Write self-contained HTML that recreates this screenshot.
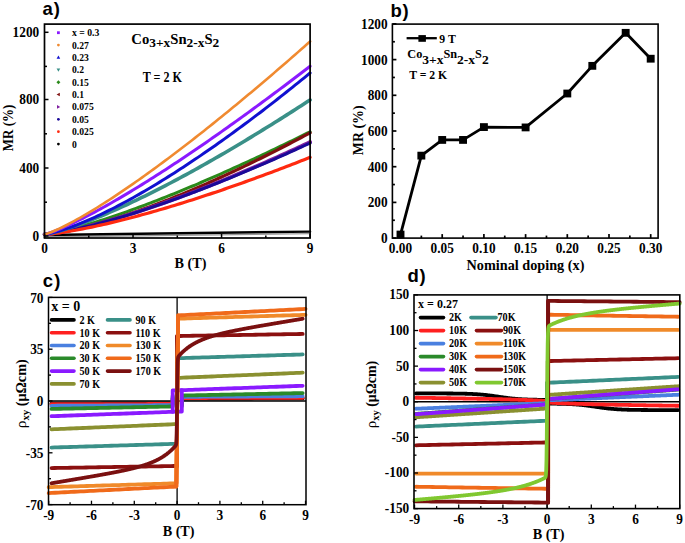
<!DOCTYPE html>
<html><head><meta charset="utf-8"><style>
html,body{margin:0;padding:0;background:#fff;width:685px;height:543px;overflow:hidden;}
svg{display:block;font-family:"Liberation Serif",serif;}
</style></head><body>
<svg width="685" height="543" viewBox="0 0 685 543"><path d="M44.50,237.00 L310.10,233.60" fill="none" stroke="#9a9a9a" stroke-width="1.3" stroke-linejoin="round" stroke-linecap="round" />
<path d="M44.50,235.00 L310.10,231.60" fill="none" stroke="#000" stroke-width="2.4" stroke-linejoin="round" stroke-linecap="round" />
<path d="M44.50,234.30 L47.45,233.99 L50.40,233.54 L53.35,233.03 L56.30,232.45 L59.26,231.84 L62.21,231.18 L65.16,230.50 L68.11,229.78 L71.06,229.04 L74.01,228.27 L76.96,227.49 L79.91,226.68 L82.86,225.85 L85.82,225.00 L88.77,224.13 L91.72,223.25 L94.67,222.35 L97.62,221.44 L100.57,220.51 L103.52,219.57 L106.47,218.61 L109.42,217.64 L112.38,216.66 L115.33,215.66 L118.28,214.65 L121.23,213.63 L124.18,212.60 L127.13,211.56 L130.08,210.51 L133.03,209.44 L135.98,208.37 L138.94,207.28 L141.89,206.19 L144.84,205.09 L147.79,203.97 L150.74,202.85 L153.69,201.72 L156.64,200.58 L159.59,199.43 L162.54,198.27 L165.50,197.11 L168.45,195.93 L171.40,194.75 L174.35,193.56 L177.30,192.36 L180.25,191.15 L183.20,189.94 L186.15,188.72 L189.10,187.49 L192.06,186.25 L195.01,185.01 L197.96,183.76 L200.91,182.50 L203.86,181.24 L206.81,179.97 L209.76,178.69 L212.71,177.41 L215.66,176.12 L218.62,174.82 L221.57,173.51 L224.52,172.20 L227.47,170.89 L230.42,169.57 L233.37,168.24 L236.32,166.90 L239.27,165.56 L242.22,164.22 L245.18,162.86 L248.13,161.50 L251.08,160.14 L254.03,158.77 L256.98,157.40 L259.93,156.02 L262.88,154.63 L265.83,153.24 L268.78,151.84 L271.74,150.44 L274.69,149.03 L277.64,147.62 L280.59,146.20 L283.54,144.78 L286.49,143.35 L289.44,141.92 L292.39,140.48 L295.34,139.03 L298.30,137.59 L301.25,136.13 L304.20,134.67 L307.15,133.21 L310.10,131.74" fill="none" stroke="#2a8a1a" stroke-width="3" stroke-linejoin="round" stroke-linecap="round" />
<path d="M44.50,234.30 L47.45,234.12 L50.40,233.83 L53.35,233.46 L56.30,233.04 L59.26,232.58 L62.21,232.07 L65.16,231.53 L68.11,230.95 L71.06,230.35 L74.01,229.72 L76.96,229.06 L79.91,228.37 L82.86,227.67 L85.82,226.93 L88.77,226.18 L91.72,225.41 L94.67,224.61 L97.62,223.80 L100.57,222.97 L103.52,222.12 L106.47,221.25 L109.42,220.37 L112.38,219.47 L115.33,218.55 L118.28,217.62 L121.23,216.67 L124.18,215.70 L127.13,214.73 L130.08,213.73 L133.03,212.73 L135.98,211.71 L138.94,210.67 L141.89,209.62 L144.84,208.56 L147.79,207.49 L150.74,206.40 L153.69,205.30 L156.64,204.19 L159.59,203.07 L162.54,201.93 L165.50,200.79 L168.45,199.63 L171.40,198.46 L174.35,197.28 L177.30,196.09 L180.25,194.88 L183.20,193.67 L186.15,192.45 L189.10,191.21 L192.06,189.97 L195.01,188.71 L197.96,187.45 L200.91,186.17 L203.86,184.89 L206.81,183.59 L209.76,182.29 L212.71,180.97 L215.66,179.65 L218.62,178.31 L221.57,176.97 L224.52,175.62 L227.47,174.26 L230.42,172.89 L233.37,171.51 L236.32,170.12 L239.27,168.73 L242.22,167.32 L245.18,165.91 L248.13,164.48 L251.08,163.05 L254.03,161.61 L256.98,160.17 L259.93,158.71 L262.88,157.25 L265.83,155.77 L268.78,154.29 L271.74,152.81 L274.69,151.31 L277.64,149.80 L280.59,148.29 L283.54,146.77 L286.49,145.25 L289.44,143.71 L292.39,142.17 L295.34,140.62 L298.30,139.06 L301.25,137.49 L304.20,135.92 L307.15,134.34 L310.10,132.75" fill="none" stroke="#801010" stroke-width="3.2" stroke-linejoin="round" stroke-linecap="round" />
<path d="M44.50,234.30 L47.45,234.09 L50.40,233.76 L53.35,233.36 L56.30,232.92 L59.26,232.44 L62.21,231.92 L65.16,231.36 L68.11,230.78 L71.06,230.18 L74.01,229.55 L76.96,228.90 L79.91,228.22 L82.86,227.53 L85.82,226.82 L88.77,226.08 L91.72,225.34 L94.67,224.57 L97.62,223.79 L100.57,223.00 L103.52,222.19 L106.47,221.36 L109.42,220.52 L112.38,219.67 L115.33,218.81 L118.28,217.93 L121.23,217.04 L124.18,216.13 L127.13,215.22 L130.08,214.30 L133.03,213.36 L135.98,212.41 L138.94,211.45 L141.89,210.48 L144.84,209.50 L147.79,208.51 L150.74,207.51 L153.69,206.50 L156.64,205.49 L159.59,204.46 L162.54,203.42 L165.50,202.37 L168.45,201.32 L171.40,200.25 L174.35,199.18 L177.30,198.10 L180.25,197.01 L183.20,195.91 L186.15,194.80 L189.10,193.69 L192.06,192.56 L195.01,191.43 L197.96,190.30 L200.91,189.15 L203.86,188.00 L206.81,186.83 L209.76,185.66 L212.71,184.49 L215.66,183.31 L218.62,182.12 L221.57,180.92 L224.52,179.71 L227.47,178.50 L230.42,177.28 L233.37,176.06 L236.32,174.83 L239.27,173.59 L242.22,172.34 L245.18,171.09 L248.13,169.83 L251.08,168.57 L254.03,167.30 L256.98,166.02 L259.93,164.74 L262.88,163.45 L265.83,162.15 L268.78,160.85 L271.74,159.54 L274.69,158.23 L277.64,156.91 L280.59,155.58 L283.54,154.25 L286.49,152.92 L289.44,151.57 L292.39,150.22 L295.34,148.87 L298.30,147.51 L301.25,146.15 L304.20,144.77 L307.15,143.40 L310.10,142.02" fill="none" stroke="#8020a0" stroke-width="3.8" stroke-linejoin="round" stroke-linecap="round" />
<path d="M44.50,234.30 L47.45,234.09 L50.40,233.75 L53.35,233.36 L56.30,232.91 L59.26,232.43 L62.21,231.91 L65.16,231.36 L68.11,230.78 L71.06,230.18 L74.01,229.55 L76.96,228.90 L79.91,228.23 L82.86,227.54 L85.82,226.83 L88.77,226.10 L91.72,225.36 L94.67,224.60 L97.62,223.82 L100.57,223.03 L103.52,222.23 L106.47,221.41 L109.42,220.58 L112.38,219.73 L115.33,218.87 L118.28,218.00 L121.23,217.12 L124.18,216.23 L127.13,215.32 L130.08,214.40 L133.03,213.47 L135.98,212.53 L138.94,211.59 L141.89,210.63 L144.84,209.66 L147.79,208.68 L150.74,207.69 L153.69,206.69 L156.64,205.68 L159.59,204.66 L162.54,203.63 L165.50,202.60 L168.45,201.55 L171.40,200.50 L174.35,199.44 L177.30,198.37 L180.25,197.29 L183.20,196.21 L186.15,195.11 L189.10,194.01 L192.06,192.90 L195.01,191.78 L197.96,190.66 L200.91,189.52 L203.86,188.38 L206.81,187.24 L209.76,186.08 L212.71,184.92 L215.66,183.75 L218.62,182.58 L221.57,181.39 L224.52,180.21 L227.47,179.01 L230.42,177.81 L233.37,176.60 L236.32,175.38 L239.27,174.16 L242.22,172.93 L245.18,171.69 L248.13,170.45 L251.08,169.21 L254.03,167.95 L256.98,166.69 L259.93,165.43 L262.88,164.15 L265.83,162.88 L268.78,161.59 L271.74,160.30 L274.69,159.01 L277.64,157.71 L280.59,156.40 L283.54,155.09 L286.49,153.77 L289.44,152.44 L292.39,151.12 L295.34,149.78 L298.30,148.44 L301.25,147.10 L304.20,145.74 L307.15,144.39 L310.10,143.03" fill="none" stroke="#1a0a98" stroke-width="3" stroke-linejoin="round" stroke-linecap="round" />
<path d="M44.50,234.30 L47.45,234.14 L50.40,233.88 L53.35,233.57 L56.30,233.22 L59.26,232.83 L62.21,232.42 L65.16,231.97 L68.11,231.51 L71.06,231.02 L74.01,230.51 L76.96,229.98 L79.91,229.43 L82.86,228.87 L85.82,228.29 L88.77,227.69 L91.72,227.08 L94.67,226.45 L97.62,225.81 L100.57,225.16 L103.52,224.50 L106.47,223.82 L109.42,223.13 L112.38,222.43 L115.33,221.72 L118.28,220.99 L121.23,220.26 L124.18,219.51 L127.13,218.76 L130.08,217.99 L133.03,217.22 L135.98,216.43 L138.94,215.64 L141.89,214.83 L144.84,214.02 L147.79,213.20 L150.74,212.37 L153.69,211.53 L156.64,210.68 L159.59,209.83 L162.54,208.96 L165.50,208.09 L168.45,207.21 L171.40,206.32 L174.35,205.43 L177.30,204.53 L180.25,203.62 L183.20,202.70 L186.15,201.77 L189.10,200.84 L192.06,199.90 L195.01,198.96 L197.96,198.00 L200.91,197.04 L203.86,196.08 L206.81,195.10 L209.76,194.12 L212.71,193.14 L215.66,192.15 L218.62,191.15 L221.57,190.14 L224.52,189.13 L227.47,188.11 L230.42,187.09 L233.37,186.06 L236.32,185.02 L239.27,183.98 L242.22,182.93 L245.18,181.88 L248.13,180.82 L251.08,179.76 L254.03,178.69 L256.98,177.61 L259.93,176.53 L262.88,175.44 L265.83,174.35 L268.78,173.25 L271.74,172.15 L274.69,171.04 L277.64,169.93 L280.59,168.81 L283.54,167.69 L286.49,166.56 L289.44,165.42 L292.39,164.28 L295.34,163.14 L298.30,161.99 L301.25,160.83 L304.20,159.67 L307.15,158.51 L310.10,157.34" fill="none" stroke="#ff2a10" stroke-width="3.2" stroke-linejoin="round" stroke-linecap="round" />
<path d="M44.50,234.30 L47.45,233.90 L50.40,233.31 L53.35,232.63 L56.30,231.88 L59.26,231.07 L62.21,230.22 L65.16,229.32 L68.11,228.38 L71.06,227.41 L74.01,226.40 L76.96,225.37 L79.91,224.31 L82.86,223.22 L85.82,222.11 L88.77,220.98 L91.72,219.82 L94.67,218.65 L97.62,217.45 L100.57,216.23 L103.52,214.99 L106.47,213.74 L109.42,212.47 L112.38,211.18 L115.33,209.87 L118.28,208.55 L121.23,207.22 L124.18,205.87 L127.13,204.50 L130.08,203.12 L133.03,201.73 L135.98,200.32 L138.94,198.90 L141.89,197.47 L144.84,196.02 L147.79,194.56 L150.74,193.09 L153.69,191.61 L156.64,190.11 L159.59,188.61 L162.54,187.09 L165.50,185.56 L168.45,184.02 L171.40,182.47 L174.35,180.91 L177.30,179.34 L180.25,177.76 L183.20,176.17 L186.15,174.57 L189.10,172.96 L192.06,171.34 L195.01,169.71 L197.96,168.08 L200.91,166.43 L203.86,164.77 L206.81,163.11 L209.76,161.43 L212.71,159.75 L215.66,158.06 L218.62,156.36 L221.57,154.65 L224.52,152.93 L227.47,151.21 L230.42,149.48 L233.37,147.73 L236.32,145.99 L239.27,144.23 L242.22,142.46 L245.18,140.69 L248.13,138.91 L251.08,137.13 L254.03,135.33 L256.98,133.53 L259.93,131.72 L262.88,129.90 L265.83,128.08 L268.78,126.25 L271.74,124.41 L274.69,122.57 L277.64,120.72 L280.59,118.86 L283.54,116.99 L286.49,115.12 L289.44,113.24 L292.39,111.36 L295.34,109.47 L298.30,107.57 L301.25,105.67 L304.20,103.76 L307.15,101.84 L310.10,99.92" fill="none" stroke="#3a9088" stroke-width="3.6" stroke-linejoin="round" stroke-linecap="round" />
<path d="M44.50,234.30 L47.45,233.93 L50.40,233.35 L53.35,232.66 L56.30,231.89 L59.26,231.04 L62.21,230.13 L65.16,229.17 L68.11,228.15 L71.06,227.09 L74.01,225.99 L76.96,224.85 L79.91,223.67 L82.86,222.46 L85.82,221.22 L88.77,219.94 L91.72,218.63 L94.67,217.29 L97.62,215.93 L100.57,214.54 L103.52,213.12 L106.47,211.68 L109.42,210.21 L112.38,208.73 L115.33,207.21 L118.28,205.68 L121.23,204.12 L124.18,202.54 L127.13,200.95 L130.08,199.33 L133.03,197.69 L135.98,196.03 L138.94,194.36 L141.89,192.66 L144.84,190.95 L147.79,189.22 L150.74,187.47 L153.69,185.71 L156.64,183.93 L159.59,182.13 L162.54,180.32 L165.50,178.49 L168.45,176.64 L171.40,174.78 L174.35,172.90 L177.30,171.01 L180.25,169.11 L183.20,167.19 L186.15,165.25 L189.10,163.30 L192.06,161.34 L195.01,159.36 L197.96,157.37 L200.91,155.37 L203.86,153.35 L206.81,151.32 L209.76,149.28 L212.71,147.22 L215.66,145.15 L218.62,143.07 L221.57,140.98 L224.52,138.87 L227.47,136.75 L230.42,134.62 L233.37,132.48 L236.32,130.33 L239.27,128.16 L242.22,125.99 L245.18,123.80 L248.13,121.60 L251.08,119.39 L254.03,117.17 L256.98,114.93 L259.93,112.69 L262.88,110.44 L265.83,108.17 L268.78,105.90 L271.74,103.61 L274.69,101.31 L277.64,99.01 L280.59,96.69 L283.54,94.36 L286.49,92.02 L289.44,89.68 L292.39,87.32 L295.34,84.95 L298.30,82.58 L301.25,80.19 L304.20,77.79 L307.15,75.39 L310.10,72.97" fill="none" stroke="#1010d0" stroke-width="3" stroke-linejoin="round" stroke-linecap="round" />
<path d="M44.50,234.30 L47.45,233.59 L50.40,232.65 L53.35,231.60 L56.30,230.48 L59.26,229.28 L62.21,228.04 L65.16,226.75 L68.11,225.42 L71.06,224.06 L74.01,222.66 L76.96,221.23 L79.91,219.77 L82.86,218.29 L85.82,216.78 L88.77,215.24 L91.72,213.69 L94.67,212.11 L97.62,210.52 L100.57,208.90 L103.52,207.27 L106.47,205.62 L109.42,203.95 L112.38,202.27 L115.33,200.57 L118.28,198.85 L121.23,197.12 L124.18,195.38 L127.13,193.62 L130.08,191.85 L133.03,190.06 L135.98,188.27 L138.94,186.46 L141.89,184.63 L144.84,182.80 L147.79,180.95 L150.74,179.10 L153.69,177.23 L156.64,175.35 L159.59,173.46 L162.54,171.56 L165.50,169.65 L168.45,167.72 L171.40,165.79 L174.35,163.85 L177.30,161.90 L180.25,159.94 L183.20,157.97 L186.15,156.00 L189.10,154.01 L192.06,152.02 L195.01,150.01 L197.96,148.00 L200.91,145.98 L203.86,143.95 L206.81,141.91 L209.76,139.87 L212.71,137.82 L215.66,135.76 L218.62,133.69 L221.57,131.61 L224.52,129.53 L227.47,127.44 L230.42,125.34 L233.37,123.24 L236.32,121.12 L239.27,119.00 L242.22,116.88 L245.18,114.75 L248.13,112.61 L251.08,110.46 L254.03,108.31 L256.98,106.15 L259.93,103.98 L262.88,101.81 L265.83,99.63 L268.78,97.45 L271.74,95.26 L274.69,93.06 L277.64,90.86 L280.59,88.65 L283.54,86.43 L286.49,84.21 L289.44,81.98 L292.39,79.75 L295.34,77.51 L298.30,75.27 L301.25,73.02 L304.20,70.76 L307.15,68.50 L310.10,66.24" fill="none" stroke="#8a1aff" stroke-width="3" stroke-linejoin="round" stroke-linecap="round" />
<path d="M44.50,234.30 L47.45,233.50 L50.40,232.45 L53.35,231.26 L56.30,229.98 L59.26,228.63 L62.21,227.22 L65.16,225.75 L68.11,224.24 L71.06,222.68 L74.01,221.09 L76.96,219.46 L79.91,217.80 L82.86,216.10 L85.82,214.38 L88.77,212.63 L91.72,210.86 L94.67,209.06 L97.62,207.24 L100.57,205.39 L103.52,203.52 L106.47,201.64 L109.42,199.73 L112.38,197.80 L115.33,195.86 L118.28,193.89 L121.23,191.91 L124.18,189.92 L127.13,187.90 L130.08,185.87 L133.03,183.83 L135.98,181.77 L138.94,179.69 L141.89,177.60 L144.84,175.50 L147.79,173.38 L150.74,171.25 L153.69,169.11 L156.64,166.95 L159.59,164.79 L162.54,162.61 L165.50,160.41 L168.45,158.21 L171.40,155.99 L174.35,153.77 L177.30,151.53 L180.25,149.28 L183.20,147.02 L186.15,144.75 L189.10,142.46 L192.06,140.17 L195.01,137.87 L197.96,135.56 L200.91,133.24 L203.86,130.91 L206.81,128.57 L209.76,126.22 L212.71,123.86 L215.66,121.49 L218.62,119.11 L221.57,116.72 L224.52,114.33 L227.47,111.93 L230.42,109.51 L233.37,107.09 L236.32,104.66 L239.27,102.23 L242.22,99.78 L245.18,97.33 L248.13,94.87 L251.08,92.40 L254.03,89.92 L256.98,87.44 L259.93,84.94 L262.88,82.44 L265.83,79.94 L268.78,77.42 L271.74,74.90 L274.69,72.37 L277.64,69.83 L280.59,67.29 L283.54,64.74 L286.49,62.18 L289.44,59.62 L292.39,57.05 L295.34,54.47 L298.30,51.89 L301.25,49.29 L304.20,46.70 L307.15,44.09 L310.10,41.48" fill="none" stroke="#f08a30" stroke-width="2.6" stroke-linejoin="round" stroke-linecap="round" />
<rect x="57.0" y="31.300000000000004" width="2.8" height="2.8" fill="#8a1aff"/>
<text x="72" y="36.2" font-size="10.5" font-family="Liberation Serif" font-weight="bold" text-anchor="start" textLength="27.3" lengthAdjust="spacingAndGlyphs" >x = 0.3</text>
<circle cx="58.4" cy="45.07" r="1.4" fill="#f08a30"/>
<text transform="translate(72.00,48.57) scale(0.92,1)" font-size="10.5" font-family="Liberation Serif" font-weight="bold" text-anchor="start" >0.27</text>
<path d="M58.4,55.62 L60.22,58.839999999999996 L56.58,58.839999999999996Z" fill="#1010d0"/>
<text transform="translate(72.00,60.94) scale(0.92,1)" font-size="10.5" font-family="Liberation Serif" font-weight="bold" text-anchor="start" >0.23</text>
<path d="M58.4,71.63 L60.22,68.41 L56.58,68.41Z" fill="#3a9088"/>
<text transform="translate(72.00,73.31) scale(0.92,1)" font-size="10.5" font-family="Liberation Serif" font-weight="bold" text-anchor="start" >0.2</text>
<path d="M58.4,80.22000000000001 L60.36,82.18 L58.4,84.14 L56.44,82.18Z" fill="#2a8a1a"/>
<text transform="translate(72.00,85.68) scale(0.92,1)" font-size="10.5" font-family="Liberation Serif" font-weight="bold" text-anchor="start" >0.15</text>
<path d="M56.58,94.55 L59.8,92.73 L59.8,96.36999999999999Z" fill="#801010"/>
<text transform="translate(72.00,98.05) scale(0.92,1)" font-size="10.5" font-family="Liberation Serif" font-weight="bold" text-anchor="start" >0.1</text>
<path d="M60.22,106.92 L57.0,105.10000000000001 L57.0,108.74Z" fill="#8020a0"/>
<text transform="translate(72.00,110.42) scale(0.92,1)" font-size="10.5" font-family="Liberation Serif" font-weight="bold" text-anchor="start" >0.075</text>
<circle cx="58.4" cy="119.28999999999999" r="1.4" fill="#1a0a98"/>
<text transform="translate(72.00,122.79) scale(0.92,1)" font-size="10.5" font-family="Liberation Serif" font-weight="bold" text-anchor="start" >0.05</text>
<circle cx="58.4" cy="131.66" r="1.4" fill="#ff2a10"/>
<text transform="translate(72.00,135.16) scale(0.92,1)" font-size="10.5" font-family="Liberation Serif" font-weight="bold" text-anchor="start" >0.025</text>
<circle cx="58.4" cy="144.03" r="1.4" fill="#000000"/>
<text transform="translate(72.00,147.53) scale(0.92,1)" font-size="10.5" font-family="Liberation Serif" font-weight="bold" text-anchor="start" >0</text>
<text x="131.3" y="44.4" font-size="14.8" font-family="Liberation Serif" font-weight="bold" text-anchor="start" textLength="88" lengthAdjust="spacingAndGlyphs" >Co<tspan font-size="13.5" dy="2.6">3+x</tspan><tspan dy="-2.6">Sn</tspan><tspan font-size="13.5" dy="2.6">2-x</tspan><tspan dy="-2.6">S</tspan><tspan font-size="13.5" dy="2.6">2</tspan></text>
<text transform="translate(142.70,81.90) scale(1,1.08)" font-size="12.7" font-family="Liberation Serif" font-weight="bold" text-anchor="start" textLength="39.3" lengthAdjust="spacingAndGlyphs" >T = 2 K</text>
<rect x="44.5" y="24.1" width="265.6" height="213.9" fill="none" stroke="#000" stroke-width="1.7"/>
<line x1="44.50" y1="238.00" x2="44.50" y2="234.00" stroke="#000" stroke-width="1.5" />
<line x1="88.77" y1="238.00" x2="88.77" y2="235.50" stroke="#000" stroke-width="1.5" />
<line x1="133.03" y1="238.00" x2="133.03" y2="234.00" stroke="#000" stroke-width="1.5" />
<line x1="177.30" y1="238.00" x2="177.30" y2="235.50" stroke="#000" stroke-width="1.5" />
<line x1="221.57" y1="238.00" x2="221.57" y2="234.00" stroke="#000" stroke-width="1.5" />
<line x1="265.83" y1="238.00" x2="265.83" y2="235.50" stroke="#000" stroke-width="1.5" />
<line x1="310.10" y1="238.00" x2="310.10" y2="234.00" stroke="#000" stroke-width="1.5" />
<line x1="44.50" y1="236.00" x2="48.50" y2="236.00" stroke="#000" stroke-width="1.5" />
<line x1="44.50" y1="202.20" x2="47.00" y2="202.20" stroke="#000" stroke-width="1.5" />
<line x1="44.50" y1="168.00" x2="48.50" y2="168.00" stroke="#000" stroke-width="1.5" />
<line x1="44.50" y1="133.80" x2="47.00" y2="133.80" stroke="#000" stroke-width="1.5" />
<line x1="44.50" y1="99.50" x2="48.50" y2="99.50" stroke="#000" stroke-width="1.5" />
<line x1="44.50" y1="66.40" x2="47.00" y2="66.40" stroke="#000" stroke-width="1.5" />
<line x1="44.50" y1="32.30" x2="48.50" y2="32.30" stroke="#000" stroke-width="1.5" />
<text transform="translate(44.50,252.60) scale(1,1.09)" font-size="13.3" font-family="Liberation Serif" font-weight="bold" text-anchor="middle" >0</text>
<text transform="translate(133.03,252.60) scale(1,1.09)" font-size="13.3" font-family="Liberation Serif" font-weight="bold" text-anchor="middle" >3</text>
<text transform="translate(221.57,252.60) scale(1,1.09)" font-size="13.3" font-family="Liberation Serif" font-weight="bold" text-anchor="middle" >6</text>
<text transform="translate(310.10,252.60) scale(1,1.09)" font-size="13.3" font-family="Liberation Serif" font-weight="bold" text-anchor="middle" >9</text>
<text transform="translate(39.20,240.70) scale(1,1.09)" font-size="13.3" font-family="Liberation Serif" font-weight="bold" text-anchor="end" >0</text>
<text transform="translate(39.20,172.70) scale(1,1.09)" font-size="13.3" font-family="Liberation Serif" font-weight="bold" text-anchor="end" >400</text>
<text transform="translate(39.20,104.20) scale(1,1.09)" font-size="13.3" font-family="Liberation Serif" font-weight="bold" text-anchor="end" >800</text>
<text transform="translate(39.20,37.00) scale(1,1.09)" font-size="13.3" font-family="Liberation Serif" font-weight="bold" text-anchor="end" >1200</text>
<text x="190.5" y="268" font-size="14.2" font-family="Liberation Serif" font-weight="bold" text-anchor="middle" >B (T)</text>
<text x="12.7" y="128" font-size="14.3" font-family="Liberation Serif" font-weight="bold" text-anchor="middle" textLength="46.7" lengthAdjust="spacingAndGlyphs" transform="rotate(-90 12.7 128)">MR (%)</text>
<text x="42.6" y="15.0" font-size="18.5" font-family="Liberation Sans" font-weight="bold" text-anchor="start" letter-spacing="0.8">a)</text>
<path d="M400.50,234.53 L421.35,155.63 L442.20,139.93 L463.05,139.93 L483.90,127.07 L525.60,127.43 L567.30,93.52 L592.32,65.85 L625.68,32.83 L650.70,58.71" fill="none" stroke="#000" stroke-width="2.8" stroke-linejoin="round" stroke-linecap="round" />
<rect x="396.55" y="230.63" width="7.9" height="7.8" fill="#000"/>
<rect x="417.40000000000003" y="151.73299999999998" width="7.9" height="7.8" fill="#000"/>
<rect x="438.25" y="136.025" width="7.9" height="7.8" fill="#000"/>
<rect x="459.1" y="136.025" width="7.9" height="7.8" fill="#000"/>
<rect x="479.95" y="123.17299999999999" width="7.9" height="7.8" fill="#000"/>
<rect x="521.65" y="123.52999999999999" width="7.9" height="7.8" fill="#000"/>
<rect x="563.3499999999999" y="89.61500000000001" width="7.9" height="7.8" fill="#000"/>
<rect x="588.37" y="61.9475" width="7.9" height="7.8" fill="#000"/>
<rect x="621.73" y="28.92500000000002" width="7.9" height="7.8" fill="#000"/>
<rect x="646.75" y="54.80750000000001" width="7.9" height="7.8" fill="#000"/>
<rect x="392.4" y="24.1" width="265.70000000000005" height="214.0" fill="none" stroke="#000" stroke-width="1.6"/>
<line x1="400.50" y1="238.10" x2="400.50" y2="234.10" stroke="#000" stroke-width="1.7" />
<line x1="421.35" y1="238.10" x2="421.35" y2="235.60" stroke="#000" stroke-width="1.7" />
<line x1="442.20" y1="238.10" x2="442.20" y2="234.10" stroke="#000" stroke-width="1.7" />
<line x1="463.05" y1="238.10" x2="463.05" y2="235.60" stroke="#000" stroke-width="1.7" />
<line x1="483.90" y1="238.10" x2="483.90" y2="234.10" stroke="#000" stroke-width="1.7" />
<line x1="504.75" y1="238.10" x2="504.75" y2="235.60" stroke="#000" stroke-width="1.7" />
<line x1="525.60" y1="238.10" x2="525.60" y2="234.10" stroke="#000" stroke-width="1.7" />
<line x1="546.45" y1="238.10" x2="546.45" y2="235.60" stroke="#000" stroke-width="1.7" />
<line x1="567.30" y1="238.10" x2="567.30" y2="234.10" stroke="#000" stroke-width="1.7" />
<line x1="588.15" y1="238.10" x2="588.15" y2="235.60" stroke="#000" stroke-width="1.7" />
<line x1="609.00" y1="238.10" x2="609.00" y2="234.10" stroke="#000" stroke-width="1.7" />
<line x1="629.85" y1="238.10" x2="629.85" y2="235.60" stroke="#000" stroke-width="1.7" />
<line x1="650.70" y1="238.10" x2="650.70" y2="234.10" stroke="#000" stroke-width="1.7" />
<line x1="392.40" y1="238.10" x2="396.40" y2="238.10" stroke="#000" stroke-width="1.7" />
<line x1="392.40" y1="220.25" x2="394.90" y2="220.25" stroke="#000" stroke-width="1.7" />
<line x1="392.40" y1="202.40" x2="396.40" y2="202.40" stroke="#000" stroke-width="1.7" />
<line x1="392.40" y1="184.55" x2="394.90" y2="184.55" stroke="#000" stroke-width="1.7" />
<line x1="392.40" y1="166.70" x2="396.40" y2="166.70" stroke="#000" stroke-width="1.7" />
<line x1="392.40" y1="148.85" x2="394.90" y2="148.85" stroke="#000" stroke-width="1.7" />
<line x1="392.40" y1="131.00" x2="396.40" y2="131.00" stroke="#000" stroke-width="1.7" />
<line x1="392.40" y1="113.15" x2="394.90" y2="113.15" stroke="#000" stroke-width="1.7" />
<line x1="392.40" y1="95.30" x2="396.40" y2="95.30" stroke="#000" stroke-width="1.7" />
<line x1="392.40" y1="77.45" x2="394.90" y2="77.45" stroke="#000" stroke-width="1.7" />
<line x1="392.40" y1="59.60" x2="396.40" y2="59.60" stroke="#000" stroke-width="1.7" />
<line x1="392.40" y1="41.75" x2="394.90" y2="41.75" stroke="#000" stroke-width="1.7" />
<line x1="392.40" y1="23.90" x2="396.40" y2="23.90" stroke="#000" stroke-width="1.7" />
<text transform="translate(400.50,253.00) scale(1,1.09)" font-size="13.3" font-family="Liberation Serif" font-weight="bold" text-anchor="middle" >0.00</text>
<text transform="translate(442.20,253.00) scale(1,1.09)" font-size="13.3" font-family="Liberation Serif" font-weight="bold" text-anchor="middle" >0.05</text>
<text transform="translate(483.90,253.00) scale(1,1.09)" font-size="13.3" font-family="Liberation Serif" font-weight="bold" text-anchor="middle" >0.10</text>
<text transform="translate(525.60,253.00) scale(1,1.09)" font-size="13.3" font-family="Liberation Serif" font-weight="bold" text-anchor="middle" >0.15</text>
<text transform="translate(567.30,253.00) scale(1,1.09)" font-size="13.3" font-family="Liberation Serif" font-weight="bold" text-anchor="middle" >0.20</text>
<text transform="translate(609.00,253.00) scale(1,1.09)" font-size="13.3" font-family="Liberation Serif" font-weight="bold" text-anchor="middle" >0.25</text>
<text transform="translate(650.70,253.00) scale(1,1.09)" font-size="13.3" font-family="Liberation Serif" font-weight="bold" text-anchor="middle" >0.30</text>
<text transform="translate(387.60,243.10) scale(1,1.09)" font-size="13.3" font-family="Liberation Serif" font-weight="bold" text-anchor="end" >0</text>
<text transform="translate(387.60,207.40) scale(1,1.09)" font-size="13.3" font-family="Liberation Serif" font-weight="bold" text-anchor="end" >200</text>
<text transform="translate(387.60,171.70) scale(1,1.09)" font-size="13.3" font-family="Liberation Serif" font-weight="bold" text-anchor="end" >400</text>
<text transform="translate(387.60,136.00) scale(1,1.09)" font-size="13.3" font-family="Liberation Serif" font-weight="bold" text-anchor="end" >600</text>
<text transform="translate(387.60,100.30) scale(1,1.09)" font-size="13.3" font-family="Liberation Serif" font-weight="bold" text-anchor="end" >800</text>
<text transform="translate(387.60,64.60) scale(1,1.09)" font-size="13.3" font-family="Liberation Serif" font-weight="bold" text-anchor="end" >1000</text>
<text transform="translate(387.60,28.90) scale(1,1.09)" font-size="13.3" font-family="Liberation Serif" font-weight="bold" text-anchor="end" >1200</text>
<text x="525.5" y="269.5" font-size="14.4" font-family="Liberation Serif" font-weight="bold" text-anchor="middle" textLength="117.8" lengthAdjust="spacingAndGlyphs" >Nominal doping (x)</text>
<text x="363.4" y="130.3" font-size="14.5" font-family="Liberation Serif" font-weight="bold" text-anchor="middle" textLength="49.7" lengthAdjust="spacingAndGlyphs" transform="rotate(-90 363.4 130.3)">MR (%)</text>
<text x="390.5" y="17.3" font-size="18.5" font-family="Liberation Sans" font-weight="bold" text-anchor="start" letter-spacing="0.6">b)</text>
<line x1="406.60" y1="38.20" x2="436.80" y2="38.20" stroke="#000" stroke-width="2.3" />
<rect x="418.4" y="35.1" width="7.5" height="6.7" fill="#000"/>
<text x="439.3" y="42.6" font-size="12.5" font-family="Liberation Serif" font-weight="bold" text-anchor="start" textLength="16.5" lengthAdjust="spacingAndGlyphs" >9 T</text>
<text x="407.3" y="58" font-size="11.8" font-family="Liberation Serif" font-weight="bold" text-anchor="start" textLength="81.4" lengthAdjust="spacingAndGlyphs" >Co<tspan font-size="13" dy="5.7">3+x</tspan><tspan dy="-5.7">Sn</tspan><tspan font-size="13" dy="5.7">2-x</tspan><tspan dy="-5.7">S</tspan><tspan font-size="13" dy="5.7">2</tspan></text>
<text transform="translate(409.20,79.00) scale(1,1.06)" font-size="11.8" font-family="Liberation Serif" font-weight="bold" text-anchor="start" textLength="38" lengthAdjust="spacingAndGlyphs" >T = 2 K</text>
<line x1="48.50" y1="401.00" x2="306.00" y2="401.00" stroke="#000" stroke-width="1.3" />
<line x1="177.10" y1="297.40" x2="177.10" y2="504.70" stroke="#000" stroke-width="1.3" />
<path d="M302.68,398.37 L299.65,398.38 L296.63,398.38 L293.61,398.39 L290.59,398.40 L287.57,398.40 L284.55,398.41 L281.52,398.42 L278.50,398.42 L275.48,398.43 L272.46,398.43 L269.44,398.44 L266.42,398.45 L263.39,398.45 L260.37,398.46 L257.35,398.47 L254.33,398.47 L251.31,398.48 L248.29,398.48 L245.26,398.49 L242.24,398.50 L239.22,398.50 L236.20,398.51 L233.18,398.52 L230.16,398.52 L227.13,398.53 L224.11,398.53 L221.09,398.54 L218.07,398.55 L215.05,398.55 L212.03,398.56 L209.00,398.57 L205.98,398.57 L202.96,398.58 L199.94,398.58 L196.92,398.59 L193.90,398.60 L190.87,398.60 L187.85,398.61 L184.83,398.62 L181.81,398.62 L181.81,403.36" fill="none" stroke="#000000" stroke-width="3.8" stroke-linejoin="round" stroke-linecap="round" />
<path d="M51.52,403.63 L54.55,403.62 L57.58,403.62 L60.61,403.61 L63.64,403.60 L66.67,403.60 L69.70,403.59 L72.73,403.58 L75.75,403.58 L78.78,403.57 L81.81,403.57 L84.84,403.56 L87.87,403.55 L90.90,403.55 L93.93,403.54 L96.96,403.53 L99.98,403.53 L103.01,403.52 L106.04,403.52 L109.07,403.51 L112.10,403.50 L115.13,403.50 L118.16,403.49 L121.19,403.48 L124.22,403.48 L127.24,403.47 L130.27,403.47 L133.30,403.46 L136.33,403.45 L139.36,403.45 L142.39,403.44 L145.42,403.43 L148.45,403.43 L151.47,403.42 L154.50,403.41 L157.53,403.41 L160.56,403.40 L163.59,403.40 L166.62,403.39 L169.65,403.38 L172.68,403.38 L172.68,398.64" fill="none" stroke="#000000" stroke-width="3.8" stroke-linejoin="round" stroke-linecap="round" />
<path d="M302.68,397.78 L299.65,397.79 L296.63,397.79 L293.61,397.80 L290.59,397.80 L287.57,397.81 L284.55,397.82 L281.52,397.82 L278.50,397.83 L275.48,397.84 L272.46,397.84 L269.44,397.85 L266.42,397.85 L263.39,397.86 L260.37,397.87 L257.35,397.87 L254.33,397.88 L251.31,397.89 L248.29,397.89 L245.26,397.90 L242.24,397.90 L239.22,397.91 L236.20,397.92 L233.18,397.92 L230.16,397.93 L227.13,397.94 L224.11,397.94 L221.09,397.95 L218.07,397.96 L215.05,397.96 L212.03,397.97 L209.00,397.97 L205.98,397.98 L202.96,397.99 L199.94,397.99 L196.92,398.00 L193.90,398.01 L190.87,398.01 L187.85,398.02 L184.83,398.02 L181.81,398.03 L181.81,403.95" fill="none" stroke="#ff2020" stroke-width="3.8" stroke-linejoin="round" stroke-linecap="round" />
<path d="M51.52,404.22 L54.55,404.21 L57.58,404.21 L60.61,404.20 L63.64,404.20 L66.67,404.19 L69.70,404.18 L72.73,404.18 L75.75,404.17 L78.78,404.16 L81.81,404.16 L84.84,404.15 L87.87,404.15 L90.90,404.14 L93.93,404.13 L96.96,404.13 L99.98,404.12 L103.01,404.11 L106.04,404.11 L109.07,404.10 L112.10,404.09 L115.13,404.09 L118.16,404.08 L121.19,404.08 L124.22,404.07 L127.24,404.06 L130.27,404.06 L133.30,404.05 L136.33,404.04 L139.36,404.04 L142.39,404.03 L145.42,404.03 L148.45,404.02 L151.47,404.01 L154.50,404.01 L157.53,404.00 L160.56,403.99 L163.59,403.99 L166.62,403.98 L169.65,403.98 L172.68,403.97 L172.68,398.05" fill="none" stroke="#ff2020" stroke-width="3.8" stroke-linejoin="round" stroke-linecap="round" />
<path d="M302.68,396.20 L299.65,396.22 L296.63,396.24 L293.61,396.25 L290.59,396.27 L287.57,396.28 L284.55,396.30 L281.52,396.31 L278.50,396.33 L275.48,396.35 L272.46,396.36 L269.44,396.38 L266.42,396.39 L263.39,396.41 L260.37,396.42 L257.35,396.44 L254.33,396.46 L251.31,396.47 L248.29,396.49 L245.26,396.50 L242.24,396.52 L239.22,396.53 L236.20,396.55 L233.18,396.57 L230.16,396.58 L227.13,396.60 L224.11,396.61 L221.09,396.63 L218.07,396.64 L215.05,396.66 L212.03,396.67 L209.00,396.69 L205.98,396.71 L202.96,396.72 L199.94,396.74 L196.92,396.75 L193.90,396.77 L190.87,396.78 L187.85,396.80 L184.83,396.82 L181.81,396.83 L181.81,405.12" fill="none" stroke="#4a80e0" stroke-width="3.8" stroke-linejoin="round" stroke-linecap="round" />
<path d="M51.52,405.80 L54.55,405.78 L57.58,405.76 L60.61,405.75 L63.64,405.73 L66.67,405.72 L69.70,405.70 L72.73,405.69 L75.75,405.67 L78.78,405.65 L81.81,405.64 L84.84,405.62 L87.87,405.61 L90.90,405.59 L93.93,405.58 L96.96,405.56 L99.98,405.54 L103.01,405.53 L106.04,405.51 L109.07,405.50 L112.10,405.48 L115.13,405.47 L118.16,405.45 L121.19,405.43 L124.22,405.42 L127.24,405.40 L130.27,405.39 L133.30,405.37 L136.33,405.36 L139.36,405.34 L142.39,405.32 L145.42,405.31 L148.45,405.29 L151.47,405.28 L154.50,405.26 L157.53,405.25 L160.56,405.23 L163.59,405.21 L166.62,405.20 L169.65,405.18 L172.68,405.17 L172.68,396.88" fill="none" stroke="#4a80e0" stroke-width="3.8" stroke-linejoin="round" stroke-linecap="round" />
<path d="M302.68,393.07 L299.65,393.13 L296.63,393.19 L293.61,393.26 L290.59,393.32 L287.57,393.38 L284.55,393.44 L281.52,393.51 L278.50,393.57 L275.48,393.63 L272.46,393.69 L269.44,393.76 L266.42,393.82 L263.39,393.88 L260.37,393.94 L257.35,394.01 L254.33,394.07 L251.31,394.13 L248.29,394.20 L245.26,394.26 L242.24,394.32 L239.22,394.38 L236.20,394.45 L233.18,394.51 L230.16,394.57 L227.13,394.63 L224.11,394.70 L221.09,394.76 L218.07,394.82 L215.05,394.88 L212.03,394.95 L209.00,395.01 L205.98,395.07 L202.96,395.14 L199.94,395.20 L196.92,395.26 L193.90,395.32 L190.87,395.39 L187.85,395.45 L184.83,395.51 L181.81,395.57 L181.81,406.23" fill="none" stroke="#2a8a2a" stroke-width="3.8" stroke-linejoin="round" stroke-linecap="round" />
<path d="M51.52,408.93 L54.55,408.87 L57.58,408.81 L60.61,408.74 L63.64,408.68 L66.67,408.62 L69.70,408.56 L72.73,408.49 L75.75,408.43 L78.78,408.37 L81.81,408.30 L84.84,408.24 L87.87,408.18 L90.90,408.12 L93.93,408.05 L96.96,407.99 L99.98,407.93 L103.01,407.86 L106.04,407.80 L109.07,407.74 L112.10,407.68 L115.13,407.61 L118.16,407.55 L121.19,407.49 L124.22,407.42 L127.24,407.36 L130.27,407.30 L133.30,407.24 L136.33,407.17 L139.36,407.11 L142.39,407.05 L145.42,406.99 L148.45,406.92 L151.47,406.86 L154.50,406.80 L157.53,406.73 L160.56,406.67 L163.59,406.61 L166.62,406.55 L169.65,406.48 L172.68,406.42 L172.68,395.76" fill="none" stroke="#2a8a2a" stroke-width="3.8" stroke-linejoin="round" stroke-linecap="round" />
<path d="M302.68,385.79 L299.43,385.90 L296.18,386.02 L292.93,386.14 L289.68,386.26 L286.43,386.38 L283.18,386.49 L279.93,386.61 L276.68,386.73 L273.43,386.85 L270.18,386.97 L266.93,387.08 L263.68,387.20 L260.43,387.32 L257.18,387.44 L253.93,387.56 L250.68,387.67 L247.43,387.79 L244.18,387.91 L240.93,388.03 L237.68,388.15 L234.43,388.26 L231.18,388.38 L227.93,388.50 L224.68,388.62 L221.43,388.73 L218.18,388.85 L214.93,388.97 L211.68,389.09 L208.43,389.21 L205.18,389.32 L201.93,389.44 L198.68,389.56 L195.43,389.68 L192.18,389.80 L188.93,389.91 L185.68,390.03 L182.43,390.15 L179.18,390.27 L175.93,390.39 L172.68,390.50 L172.68,411.82" fill="none" stroke="#8a1aff" stroke-width="3.8" stroke-linejoin="round" stroke-linecap="round" />
<path d="M51.52,416.21 L54.78,416.10 L58.04,415.98 L61.30,415.86 L64.55,415.74 L67.81,415.62 L71.07,415.50 L74.32,415.39 L77.58,415.27 L80.84,415.15 L84.10,415.03 L87.35,414.91 L90.61,414.80 L93.87,414.68 L97.12,414.56 L100.38,414.44 L103.64,414.32 L106.90,414.20 L110.15,414.09 L113.41,413.97 L116.67,413.85 L119.92,413.73 L123.18,413.61 L126.44,413.50 L129.70,413.38 L132.95,413.26 L136.21,413.14 L139.47,413.02 L142.72,412.90 L145.98,412.79 L149.24,412.67 L152.49,412.55 L155.75,412.43 L159.01,412.31 L162.27,412.19 L165.52,412.08 L168.78,411.96 L172.04,411.84 L175.29,411.72 L178.55,411.60 L181.81,411.49 L181.81,390.17" fill="none" stroke="#8a1aff" stroke-width="3.8" stroke-linejoin="round" stroke-linecap="round" />
<path d="M302.68,372.70 L299.54,372.83 L296.40,372.96 L293.26,373.09 L290.12,373.22 L286.98,373.35 L283.84,373.48 L280.70,373.61 L277.56,373.74 L274.42,373.87 L271.28,374.00 L268.14,374.14 L265.00,374.27 L261.86,374.40 L258.72,374.53 L255.59,374.66 L252.45,374.79 L249.31,374.92 L246.17,375.05 L243.03,375.18 L239.89,375.31 L236.75,375.44 L233.61,375.57 L230.47,375.70 L227.33,375.83 L224.19,375.96 L221.05,376.09 L217.91,376.22 L214.77,376.35 L211.63,376.48 L208.49,376.61 L205.35,376.74 L202.22,376.87 L199.08,377.00 L195.94,377.13 L192.80,377.26 L189.66,377.39 L186.52,377.52 L183.38,377.65 L180.24,377.78 L177.10,377.91 L177.10,424.09" fill="none" stroke="#8a9030" stroke-width="3.8" stroke-linejoin="round" stroke-linecap="round" />
<path d="M51.52,429.30 L54.66,429.17 L57.80,429.04 L60.94,428.91 L64.08,428.78 L67.22,428.65 L70.36,428.52 L73.50,428.39 L76.64,428.26 L79.78,428.13 L82.92,428.00 L86.06,427.86 L89.20,427.73 L92.34,427.60 L95.48,427.47 L98.61,427.34 L101.75,427.21 L104.89,427.08 L108.03,426.95 L111.17,426.82 L114.31,426.69 L117.45,426.56 L120.59,426.43 L123.73,426.30 L126.87,426.17 L130.01,426.04 L133.15,425.91 L136.29,425.78 L139.43,425.65 L142.57,425.52 L145.71,425.39 L148.85,425.26 L151.98,425.13 L155.12,425.00 L158.26,424.87 L161.40,424.74 L164.54,424.61 L167.68,424.48 L170.82,424.35 L173.96,424.22 L177.10,424.09 L177.10,377.91" fill="none" stroke="#8a9030" stroke-width="3.8" stroke-linejoin="round" stroke-linecap="round" />
<path d="M302.68,354.45 L299.54,354.55 L296.40,354.64 L293.26,354.73 L290.12,354.83 L286.98,354.92 L283.84,355.02 L280.70,355.11 L277.56,355.21 L274.42,355.30 L271.28,355.40 L268.14,355.49 L265.00,355.58 L261.86,355.68 L258.72,355.77 L255.59,355.87 L252.45,355.96 L249.31,356.06 L246.17,356.15 L243.03,356.25 L239.89,356.34 L236.75,356.43 L233.61,356.53 L230.47,356.62 L227.33,356.72 L224.19,356.81 L221.05,356.91 L217.91,357.00 L214.77,357.09 L211.63,357.19 L208.49,357.28 L205.35,357.38 L202.22,357.47 L199.08,357.57 L195.94,357.66 L192.80,357.76 L189.66,357.85 L186.52,357.94 L183.38,358.04 L180.24,358.13 L177.10,358.23 L177.10,443.77" fill="none" stroke="#3a9088" stroke-width="3.8" stroke-linejoin="round" stroke-linecap="round" />
<path d="M51.52,447.55 L54.66,447.45 L57.80,447.36 L60.94,447.27 L64.08,447.17 L67.22,447.08 L70.36,446.98 L73.50,446.89 L76.64,446.79 L79.78,446.70 L82.92,446.60 L86.06,446.51 L89.20,446.42 L92.34,446.32 L95.48,446.23 L98.61,446.13 L101.75,446.04 L104.89,445.94 L108.03,445.85 L111.17,445.75 L114.31,445.66 L117.45,445.57 L120.59,445.47 L123.73,445.38 L126.87,445.28 L130.01,445.19 L133.15,445.09 L136.29,445.00 L139.43,444.91 L142.57,444.81 L145.71,444.72 L148.85,444.62 L151.98,444.53 L155.12,444.43 L158.26,444.34 L161.40,444.24 L164.54,444.15 L167.68,444.06 L170.82,443.96 L173.96,443.87 L177.10,443.77 L177.10,358.23" fill="none" stroke="#3a9088" stroke-width="3.8" stroke-linejoin="round" stroke-linecap="round" />
<path d="M302.68,333.94 L299.54,334.00 L296.40,334.05 L293.26,334.10 L290.12,334.15 L286.98,334.20 L283.84,334.26 L280.70,334.31 L277.56,334.36 L274.42,334.41 L271.28,334.47 L268.14,334.52 L265.00,334.57 L261.86,334.62 L258.72,334.67 L255.59,334.73 L252.45,334.78 L249.31,334.83 L246.17,334.88 L243.03,334.93 L239.89,334.99 L236.75,335.04 L233.61,335.09 L230.47,335.14 L227.33,335.19 L224.19,335.25 L221.05,335.30 L217.91,335.35 L214.77,335.40 L211.63,335.45 L208.49,335.51 L205.35,335.56 L202.22,335.61 L199.08,335.66 L195.94,335.72 L192.80,335.77 L189.66,335.82 L186.52,335.87 L183.38,335.92 L180.24,335.98 L177.10,336.03 L177.10,465.97" fill="none" stroke="#8b1010" stroke-width="3.8" stroke-linejoin="round" stroke-linecap="round" />
<path d="M51.52,468.06 L54.66,468.00 L57.80,467.95 L60.94,467.90 L64.08,467.85 L67.22,467.80 L70.36,467.74 L73.50,467.69 L76.64,467.64 L79.78,467.59 L82.92,467.53 L86.06,467.48 L89.20,467.43 L92.34,467.38 L95.48,467.33 L98.61,467.27 L101.75,467.22 L104.89,467.17 L108.03,467.12 L111.17,467.07 L114.31,467.01 L117.45,466.96 L120.59,466.91 L123.73,466.86 L126.87,466.81 L130.01,466.75 L133.15,466.70 L136.29,466.65 L139.43,466.60 L142.57,466.55 L145.71,466.49 L148.85,466.44 L151.98,466.39 L155.12,466.34 L158.26,466.28 L161.40,466.23 L164.54,466.18 L167.68,466.13 L170.82,466.08 L173.96,466.02 L177.10,465.97 L177.10,336.03" fill="none" stroke="#8b1010" stroke-width="3.8" stroke-linejoin="round" stroke-linecap="round" />
<path d="M305.53,314.85 L302.34,314.95 L299.16,315.04 L295.97,315.14 L292.79,315.23 L289.60,315.33 L286.42,315.42 L283.23,315.52 L280.04,315.62 L276.86,315.71 L273.67,315.81 L270.49,315.90 L267.30,316.00 L264.11,316.09 L260.93,316.19 L257.74,316.29 L254.56,316.38 L251.37,316.48 L248.19,316.57 L245.00,316.67 L241.81,316.77 L238.63,316.86 L235.44,316.96 L232.26,317.05 L229.07,317.15 L225.89,317.24 L222.70,317.34 L219.51,317.44 L216.33,317.53 L213.14,317.63 L209.96,317.72 L206.77,317.82 L203.59,317.92 L200.40,318.01 L197.21,318.11 L194.03,318.20 L190.84,318.30 L187.66,318.39 L184.47,318.49 L181.28,318.59 L178.10,318.68 L176.39,483.31" fill="none" stroke="#f08a2a" stroke-width="3.8" stroke-linejoin="round" stroke-linecap="round" />
<path d="M48.67,487.15 L51.86,487.05 L55.06,486.96 L58.25,486.86 L61.44,486.77 L64.63,486.67 L67.83,486.57 L71.02,486.48 L74.21,486.38 L77.41,486.29 L80.60,486.19 L83.79,486.09 L86.98,486.00 L90.18,485.90 L93.37,485.81 L96.56,485.71 L99.76,485.61 L102.95,485.52 L106.14,485.42 L109.34,485.33 L112.53,485.23 L115.72,485.13 L118.91,485.04 L122.11,484.94 L125.30,484.85 L128.49,484.75 L131.69,484.65 L134.88,484.56 L138.07,484.46 L141.26,484.37 L144.46,484.27 L147.65,484.17 L150.84,484.08 L154.04,483.98 L157.23,483.89 L160.42,483.79 L163.61,483.69 L166.81,483.60 L170.00,483.50 L173.19,483.41 L176.39,483.31 L178.10,318.68" fill="none" stroke="#f08a2a" stroke-width="3.8" stroke-linejoin="round" stroke-linecap="round" />
<path d="M305.53,308.93 L302.34,309.09 L299.16,309.25 L295.97,309.41 L292.79,309.58 L289.60,309.74 L286.42,309.90 L283.23,310.06 L280.04,310.22 L276.86,310.39 L273.67,310.55 L270.49,310.71 L267.30,310.87 L264.11,311.03 L260.93,311.20 L257.74,311.36 L254.56,311.52 L251.37,311.68 L248.19,311.84 L245.00,312.01 L241.81,312.17 L238.63,312.33 L235.44,312.49 L232.26,312.65 L229.07,312.81 L225.89,312.98 L222.70,313.14 L219.51,313.30 L216.33,313.46 L213.14,313.62 L209.96,313.79 L206.77,313.95 L203.59,314.11 L200.40,314.27 L197.21,314.43 L194.03,314.60 L190.84,314.76 L187.66,314.92 L184.47,315.08 L181.28,315.24 L178.10,315.41 L176.39,486.58" fill="none" stroke="#f06a1a" stroke-width="3.8" stroke-linejoin="round" stroke-linecap="round" />
<path d="M48.67,493.07 L51.86,492.91 L55.06,492.75 L58.25,492.58 L61.44,492.42 L64.63,492.26 L67.83,492.10 L71.02,491.93 L74.21,491.77 L77.41,491.61 L80.60,491.45 L83.79,491.29 L86.98,491.12 L90.18,490.96 L93.37,490.80 L96.56,490.64 L99.76,490.47 L102.95,490.31 L106.14,490.15 L109.34,489.99 L112.53,489.83 L115.72,489.66 L118.91,489.50 L122.11,489.34 L125.30,489.18 L128.49,489.01 L131.69,488.85 L134.88,488.69 L138.07,488.53 L141.26,488.37 L144.46,488.20 L147.65,488.04 L150.84,487.88 L154.04,487.72 L157.23,487.55 L160.42,487.39 L163.61,487.23 L166.81,487.07 L170.00,486.90 L173.19,486.74 L176.39,486.58 L178.10,315.41" fill="none" stroke="#f06a1a" stroke-width="3.8" stroke-linejoin="round" stroke-linecap="round" />
<path d="M51.52,483.25 L51.81,483.20 L52.09,483.15 L52.38,483.10 L52.67,483.06 L52.95,483.01 L53.24,482.96 L53.52,482.91 L53.81,482.87 L54.09,482.82 L54.38,482.77 L54.66,482.72 L54.95,482.68 L55.23,482.63 L55.52,482.58 L55.80,482.53 L56.09,482.48 L56.38,482.44 L56.66,482.39 L56.95,482.34 L57.23,482.29 L57.52,482.25 L57.80,482.20 L58.09,482.15 L58.37,482.10 L58.66,482.06 L58.94,482.01 L59.23,481.96 L59.52,481.91 L59.80,481.87 L60.09,481.82 L60.37,481.77 L60.66,481.72 L60.94,481.67 L61.23,481.63 L61.51,481.58 L61.80,481.53 L62.08,481.48 L62.37,481.44 L62.65,481.39 L62.94,481.34 L63.23,481.29 L63.51,481.24 L63.80,481.20 L64.08,481.15 L64.37,481.10 L64.65,481.05 L64.94,481.01 L65.22,480.96 L65.51,480.91 L65.79,480.86 L66.08,480.81 L66.36,480.77 L66.65,480.72 L66.94,480.67 L67.22,480.62 L67.51,480.58 L67.79,480.53 L68.08,480.48 L68.36,480.43 L68.65,480.38 L68.93,480.34 L69.22,480.29 L69.50,480.24 L69.79,480.19 L70.07,480.14 L70.36,480.10 L70.65,480.05 L70.93,480.00 L71.22,479.95 L71.50,479.90 L71.79,479.86 L72.07,479.81 L72.36,479.76 L72.64,479.71 L72.93,479.66 L73.21,479.62 L73.50,479.57 L73.79,479.52 L74.07,479.47 L74.36,479.42 L74.64,479.38 L74.93,479.33 L75.21,479.28 L75.50,479.23 L75.78,479.18 L76.07,479.13 L76.35,479.09 L76.64,479.04 L76.92,478.99 L77.21,478.94 L77.50,478.89 L77.78,478.85 L78.07,478.80 L78.35,478.75 L78.64,478.70 L78.92,478.65 L79.21,478.60 L79.49,478.56 L79.78,478.51 L80.06,478.46 L80.35,478.41 L80.63,478.36 L80.92,478.31 L81.21,478.26 L81.49,478.22 L81.78,478.17 L82.06,478.12 L82.35,478.07 L82.63,478.02 L82.92,477.97 L83.20,477.92 L83.49,477.88 L83.77,477.83 L84.06,477.78 L84.34,477.73 L84.63,477.68 L84.92,477.63 L85.20,477.58 L85.49,477.53 L85.77,477.49 L86.06,477.44 L86.34,477.39 L86.63,477.34 L86.91,477.29 L87.20,477.24 L87.48,477.19 L87.77,477.14 L88.06,477.09 L88.34,477.05 L88.63,477.00 L88.91,476.95 L89.20,476.90 L89.48,476.85 L89.77,476.80 L90.05,476.75 L90.34,476.70 L90.62,476.65 L90.91,476.60 L91.19,476.55 L91.48,476.50 L91.77,476.45 L92.05,476.40 L92.34,476.35 L92.62,476.31 L92.91,476.26 L93.19,476.21 L93.48,476.16 L93.76,476.11 L94.05,476.06 L94.33,476.01 L94.62,475.96 L94.90,475.91 L95.19,475.86 L95.48,475.81 L95.76,475.76 L96.05,475.71 L96.33,475.66 L96.62,475.61 L96.90,475.56 L97.19,475.51 L97.47,475.46 L97.76,475.41 L98.04,475.36 L98.33,475.31 L98.61,475.25 L98.90,475.20 L99.19,475.15 L99.47,475.10 L99.76,475.05 L100.04,475.00 L100.33,474.95 L100.61,474.90 L100.90,474.85 L101.18,474.80 L101.47,474.75 L101.75,474.70 L102.04,474.64 L102.33,474.59 L102.61,474.54 L102.90,474.49 L103.18,474.44 L103.47,474.39 L103.75,474.34 L104.04,474.28 L104.32,474.23 L104.61,474.18 L104.89,474.13 L105.18,474.08 L105.46,474.03 L105.75,473.97 L106.04,473.92 L106.32,473.87 L106.61,473.82 L106.89,473.76 L107.18,473.71 L107.46,473.66 L107.75,473.61 L108.03,473.55 L108.32,473.50 L108.60,473.45 L108.89,473.39 L109.17,473.34 L109.46,473.29 L109.75,473.23 L110.03,473.18 L110.32,473.13 L110.60,473.07 L110.89,473.02 L111.17,472.97 L111.46,472.91 L111.74,472.86 L112.03,472.80 L112.31,472.75 L112.60,472.70 L112.88,472.64 L113.17,472.59 L113.46,472.53 L113.74,472.48 L114.03,472.42 L114.31,472.37 L114.60,472.31 L114.88,472.26 L115.17,472.20 L115.45,472.14 L115.74,472.09 L116.02,472.03 L116.31,471.98 L116.60,471.92 L116.88,471.86 L117.17,471.81 L117.45,471.75 L117.74,471.69 L118.02,471.64 L118.31,471.58 L118.59,471.52 L118.88,471.46 L119.16,471.41 L119.45,471.35 L119.73,471.29 L120.02,471.23 L120.31,471.17 L120.59,471.11 L120.88,471.06 L121.16,471.00 L121.45,470.94 L121.73,470.88 L122.02,470.82 L122.30,470.76 L122.59,470.70 L122.87,470.64 L123.16,470.58 L123.44,470.52 L123.73,470.46 L124.02,470.40 L124.30,470.33 L124.59,470.27 L124.87,470.21 L125.16,470.15 L125.44,470.09 L125.73,470.02 L126.01,469.96 L126.30,469.90 L126.58,469.83 L126.87,469.77 L127.15,469.71 L127.44,469.64 L127.73,469.58 L128.01,469.51 L128.30,469.45 L128.58,469.38 L128.87,469.32 L129.15,469.25 L129.44,469.19 L129.72,469.12 L130.01,469.05 L130.29,468.98 L130.58,468.92 L130.87,468.85 L131.15,468.78 L131.44,468.71 L131.72,468.64 L132.01,468.57 L132.29,468.50 L132.58,468.43 L132.86,468.36 L133.15,468.29 L133.43,468.22 L133.72,468.15 L134.00,468.08 L134.29,468.01 L134.58,467.93 L134.86,467.86 L135.15,467.79 L135.43,467.71 L135.72,467.64 L136.00,467.56 L136.29,467.49 L136.57,467.41 L136.86,467.33 L137.14,467.26 L137.43,467.18 L137.71,467.10 L138.00,467.02 L138.29,466.94 L138.57,466.86 L138.86,466.78 L139.14,466.70 L139.43,466.62 L139.71,466.54 L140.00,466.46 L140.28,466.37 L140.57,466.29 L140.85,466.21 L141.14,466.12 L141.42,466.04 L141.71,465.95 L142.00,465.86 L142.28,465.78 L142.57,465.69 L142.85,465.60 L143.14,465.51 L143.42,465.42 L143.71,465.33 L143.99,465.24 L144.28,465.15 L144.56,465.05 L144.85,464.96 L145.14,464.86 L145.42,464.77 L145.71,464.67 L145.99,464.57 L146.28,464.48 L146.56,464.38 L146.85,464.28 L147.13,464.18 L147.42,464.08 L147.70,463.97 L147.99,463.87 L148.27,463.77 L148.56,463.66 L148.85,463.56 L149.13,463.45 L149.42,463.34 L149.70,463.23 L149.99,463.12 L150.27,463.01 L150.56,462.90 L150.84,462.78 L151.13,462.67 L151.41,462.55 L151.70,462.44 L151.98,462.32 L152.27,462.20 L152.56,462.08 L152.84,461.96 L153.13,461.84 L153.41,461.71 L153.70,461.59 L153.98,461.46 L154.27,461.33 L154.55,461.20 L154.84,461.07 L155.12,460.94 L155.41,460.81 L155.69,460.67 L155.98,460.54 L156.27,460.40 L156.55,460.26 L156.84,460.12 L157.12,459.97 L157.41,459.83 L157.69,459.68 L157.98,459.54 L158.26,459.39 L158.55,459.24 L158.83,459.08 L159.12,458.93 L159.41,458.77 L159.69,458.62 L159.98,458.46 L160.26,458.29 L160.55,458.13 L160.83,457.96 L161.12,457.80 L161.40,457.63 L161.69,457.46 L161.97,457.28 L162.26,457.11 L162.54,456.93 L162.83,456.75 L163.12,456.57 L163.40,456.38 L163.69,456.19 L163.97,456.00 L164.26,455.81 L164.54,455.62 L164.83,455.42 L165.11,455.22 L165.40,455.02 L165.68,454.82 L165.97,454.61 L166.25,454.40 L166.54,454.19 L166.83,453.97 L167.11,453.75 L167.40,453.53 L167.68,453.31 L167.97,453.08 L168.25,452.85 L168.54,452.62 L168.82,452.38 L169.11,452.14 L169.39,451.90 L169.68,451.66 L169.97,451.41 L170.25,451.16 L170.54,450.90 L170.82,450.64 L171.11,450.38 L171.39,450.11 L171.68,449.84 L171.96,449.57 L172.25,449.29 L172.53,449.01 L172.82,448.72 L173.10,448.43 L173.39,448.14 L173.68,447.84 L173.96,447.54 L174.25,447.23 L174.53,446.92 L174.82,446.61 L175.10,446.28 L175.39,445.94 L175.67,445.53 L175.96,444.89 L176.24,443.42 L176.53,439.04 L176.81,426.37 L177.10,401.00 L177.39,375.63 L177.67,362.96 L177.96,358.58 L178.24,357.11 L178.53,356.47 L178.81,356.06 L179.10,355.72 L179.38,355.39 L179.67,355.08 L179.95,354.77 L180.24,354.46 L180.52,354.16 L180.81,353.86 L181.10,353.57 L181.38,353.28 L181.67,352.99 L181.95,352.71 L182.24,352.43 L182.52,352.16 L182.81,351.89 L183.09,351.62 L183.38,351.36 L183.66,351.10 L183.95,350.84 L184.23,350.59 L184.52,350.34 L184.81,350.10 L185.09,349.86 L185.38,349.62 L185.66,349.38 L185.95,349.15 L186.23,348.92 L186.52,348.69 L186.80,348.47 L187.09,348.25 L187.37,348.03 L187.66,347.81 L187.95,347.60 L188.23,347.39 L188.52,347.18 L188.80,346.98 L189.09,346.78 L189.37,346.58 L189.66,346.38 L189.94,346.19 L190.23,346.00 L190.51,345.81 L190.80,345.62 L191.08,345.43 L191.37,345.25 L191.66,345.07 L191.94,344.89 L192.23,344.72 L192.51,344.54 L192.80,344.37 L193.08,344.20 L193.37,344.04 L193.65,343.87 L193.94,343.71 L194.22,343.54 L194.51,343.38 L194.79,343.23 L195.08,343.07 L195.37,342.92 L195.65,342.76 L195.94,342.61 L196.22,342.46 L196.51,342.32 L196.79,342.17 L197.08,342.03 L197.36,341.88 L197.65,341.74 L197.93,341.60 L198.22,341.46 L198.50,341.33 L198.79,341.19 L199.08,341.06 L199.36,340.93 L199.65,340.80 L199.93,340.67 L200.22,340.54 L200.50,340.41 L200.79,340.29 L201.07,340.16 L201.36,340.04 L201.64,339.92 L201.93,339.80 L202.22,339.68 L202.50,339.56 L202.79,339.45 L203.07,339.33 L203.36,339.22 L203.64,339.10 L203.93,338.99 L204.21,338.88 L204.50,338.77 L204.78,338.66 L205.07,338.55 L205.35,338.44 L205.64,338.34 L205.93,338.23 L206.21,338.13 L206.50,338.03 L206.78,337.92 L207.07,337.82 L207.35,337.72 L207.64,337.62 L207.92,337.52 L208.21,337.43 L208.49,337.33 L208.78,337.23 L209.06,337.14 L209.35,337.04 L209.64,336.95 L209.92,336.85 L210.21,336.76 L210.49,336.67 L210.78,336.58 L211.06,336.49 L211.35,336.40 L211.63,336.31 L211.92,336.22 L212.20,336.14 L212.49,336.05 L212.77,335.96 L213.06,335.88 L213.35,335.79 L213.63,335.71 L213.92,335.63 L214.20,335.54 L214.49,335.46 L214.77,335.38 L215.06,335.30 L215.34,335.22 L215.63,335.14 L215.91,335.06 L216.20,334.98 L216.49,334.90 L216.77,334.82 L217.06,334.74 L217.34,334.67 L217.63,334.59 L217.91,334.51 L218.20,334.44 L218.48,334.36 L218.77,334.29 L219.05,334.21 L219.34,334.14 L219.62,334.07 L219.91,333.99 L220.20,333.92 L220.48,333.85 L220.77,333.78 L221.05,333.71 L221.34,333.64 L221.62,333.57 L221.91,333.50 L222.19,333.43 L222.48,333.36 L222.76,333.29 L223.05,333.22 L223.33,333.15 L223.62,333.08 L223.91,333.02 L224.19,332.95 L224.48,332.88 L224.76,332.81 L225.05,332.75 L225.33,332.68 L225.62,332.62 L225.90,332.55 L226.19,332.49 L226.47,332.42 L226.76,332.36 L227.04,332.29 L227.33,332.23 L227.62,332.17 L227.90,332.10 L228.19,332.04 L228.47,331.98 L228.76,331.91 L229.04,331.85 L229.33,331.79 L229.61,331.73 L229.90,331.67 L230.18,331.60 L230.47,331.54 L230.76,331.48 L231.04,331.42 L231.33,331.36 L231.61,331.30 L231.90,331.24 L232.18,331.18 L232.47,331.12 L232.75,331.06 L233.04,331.00 L233.32,330.94 L233.61,330.89 L233.89,330.83 L234.18,330.77 L234.47,330.71 L234.75,330.65 L235.04,330.59 L235.32,330.54 L235.61,330.48 L235.89,330.42 L236.18,330.36 L236.46,330.31 L236.75,330.25 L237.03,330.19 L237.32,330.14 L237.60,330.08 L237.89,330.02 L238.18,329.97 L238.46,329.91 L238.75,329.86 L239.03,329.80 L239.32,329.74 L239.60,329.69 L239.89,329.63 L240.17,329.58 L240.46,329.52 L240.74,329.47 L241.03,329.41 L241.31,329.36 L241.60,329.30 L241.89,329.25 L242.17,329.20 L242.46,329.14 L242.74,329.09 L243.03,329.03 L243.31,328.98 L243.60,328.93 L243.88,328.87 L244.17,328.82 L244.45,328.77 L244.74,328.71 L245.03,328.66 L245.31,328.61 L245.60,328.55 L245.88,328.50 L246.17,328.45 L246.45,328.39 L246.74,328.34 L247.02,328.29 L247.31,328.24 L247.59,328.18 L247.88,328.13 L248.16,328.08 L248.45,328.03 L248.74,327.97 L249.02,327.92 L249.31,327.87 L249.59,327.82 L249.88,327.77 L250.16,327.72 L250.45,327.66 L250.73,327.61 L251.02,327.56 L251.30,327.51 L251.59,327.46 L251.87,327.41 L252.16,327.36 L252.45,327.30 L252.73,327.25 L253.02,327.20 L253.30,327.15 L253.59,327.10 L253.87,327.05 L254.16,327.00 L254.44,326.95 L254.73,326.90 L255.01,326.85 L255.30,326.80 L255.58,326.75 L255.87,326.69 L256.16,326.64 L256.44,326.59 L256.73,326.54 L257.01,326.49 L257.30,326.44 L257.58,326.39 L257.87,326.34 L258.15,326.29 L258.44,326.24 L258.72,326.19 L259.01,326.14 L259.30,326.09 L259.58,326.04 L259.87,325.99 L260.15,325.94 L260.44,325.89 L260.72,325.84 L261.01,325.79 L261.29,325.74 L261.58,325.69 L261.86,325.65 L262.15,325.60 L262.43,325.55 L262.72,325.50 L263.01,325.45 L263.29,325.40 L263.58,325.35 L263.86,325.30 L264.15,325.25 L264.43,325.20 L264.72,325.15 L265.00,325.10 L265.29,325.05 L265.57,325.00 L265.86,324.95 L266.14,324.91 L266.43,324.86 L266.72,324.81 L267.00,324.76 L267.29,324.71 L267.57,324.66 L267.86,324.61 L268.14,324.56 L268.43,324.51 L268.71,324.47 L269.00,324.42 L269.28,324.37 L269.57,324.32 L269.86,324.27 L270.14,324.22 L270.43,324.17 L270.71,324.12 L271.00,324.08 L271.28,324.03 L271.57,323.98 L271.85,323.93 L272.14,323.88 L272.42,323.83 L272.71,323.78 L272.99,323.74 L273.28,323.69 L273.57,323.64 L273.85,323.59 L274.14,323.54 L274.42,323.49 L274.71,323.44 L274.99,323.40 L275.28,323.35 L275.56,323.30 L275.85,323.25 L276.13,323.20 L276.42,323.15 L276.70,323.11 L276.99,323.06 L277.28,323.01 L277.56,322.96 L277.85,322.91 L278.13,322.87 L278.42,322.82 L278.70,322.77 L278.99,322.72 L279.27,322.67 L279.56,322.62 L279.84,322.58 L280.13,322.53 L280.41,322.48 L280.70,322.43 L280.99,322.38 L281.27,322.34 L281.56,322.29 L281.84,322.24 L282.13,322.19 L282.41,322.14 L282.70,322.10 L282.98,322.05 L283.27,322.00 L283.55,321.95 L283.84,321.90 L284.12,321.86 L284.41,321.81 L284.70,321.76 L284.98,321.71 L285.27,321.66 L285.55,321.62 L285.84,321.57 L286.12,321.52 L286.41,321.47 L286.69,321.42 L286.98,321.38 L287.26,321.33 L287.55,321.28 L287.84,321.23 L288.12,321.19 L288.41,321.14 L288.69,321.09 L288.98,321.04 L289.26,320.99 L289.55,320.95 L289.83,320.90 L290.12,320.85 L290.40,320.80 L290.69,320.76 L290.97,320.71 L291.26,320.66 L291.55,320.61 L291.83,320.56 L292.12,320.52 L292.40,320.47 L292.69,320.42 L292.97,320.37 L293.26,320.33 L293.54,320.28 L293.83,320.23 L294.11,320.18 L294.40,320.13 L294.68,320.09 L294.97,320.04 L295.26,319.99 L295.54,319.94 L295.83,319.90 L296.11,319.85 L296.40,319.80 L296.68,319.75 L296.97,319.71 L297.25,319.66 L297.54,319.61 L297.82,319.56 L298.11,319.52 L298.39,319.47 L298.68,319.42 L298.97,319.37 L299.25,319.32 L299.54,319.28 L299.82,319.23 L300.11,319.18 L300.39,319.13 L300.68,319.09 L300.96,319.04 L301.25,318.99 L301.53,318.94 L301.82,318.90 L302.11,318.85 L302.39,318.80 L302.68,318.75" fill="none" stroke="#7a1010" stroke-width="3.8" stroke-linejoin="round" stroke-linecap="round" />
<rect x="48.5" y="297.4" width="257.5" height="207.3" fill="none" stroke="#000" stroke-width="1.5"/>
<line x1="48.67" y1="504.70" x2="48.67" y2="500.70" stroke="#000" stroke-width="1.3" />
<line x1="70.08" y1="504.70" x2="70.08" y2="502.20" stroke="#000" stroke-width="1.3" />
<line x1="91.48" y1="504.70" x2="91.48" y2="500.70" stroke="#000" stroke-width="1.3" />
<line x1="112.88" y1="504.70" x2="112.88" y2="502.20" stroke="#000" stroke-width="1.3" />
<line x1="134.29" y1="504.70" x2="134.29" y2="500.70" stroke="#000" stroke-width="1.3" />
<line x1="155.69" y1="504.70" x2="155.69" y2="502.20" stroke="#000" stroke-width="1.3" />
<line x1="177.10" y1="504.70" x2="177.10" y2="500.70" stroke="#000" stroke-width="1.3" />
<line x1="198.50" y1="504.70" x2="198.50" y2="502.20" stroke="#000" stroke-width="1.3" />
<line x1="219.91" y1="504.70" x2="219.91" y2="500.70" stroke="#000" stroke-width="1.3" />
<line x1="241.31" y1="504.70" x2="241.31" y2="502.20" stroke="#000" stroke-width="1.3" />
<line x1="262.72" y1="504.70" x2="262.72" y2="500.70" stroke="#000" stroke-width="1.3" />
<line x1="284.12" y1="504.70" x2="284.12" y2="502.20" stroke="#000" stroke-width="1.3" />
<line x1="305.53" y1="504.70" x2="305.53" y2="500.70" stroke="#000" stroke-width="1.3" />
<line x1="48.50" y1="504.60" x2="52.50" y2="504.60" stroke="#000" stroke-width="1.3" />
<line x1="48.50" y1="478.70" x2="51.00" y2="478.70" stroke="#000" stroke-width="1.3" />
<line x1="48.50" y1="452.80" x2="52.50" y2="452.80" stroke="#000" stroke-width="1.3" />
<line x1="48.50" y1="426.90" x2="51.00" y2="426.90" stroke="#000" stroke-width="1.3" />
<line x1="48.50" y1="401.00" x2="52.50" y2="401.00" stroke="#000" stroke-width="1.3" />
<line x1="48.50" y1="375.10" x2="51.00" y2="375.10" stroke="#000" stroke-width="1.3" />
<line x1="48.50" y1="349.20" x2="52.50" y2="349.20" stroke="#000" stroke-width="1.3" />
<line x1="48.50" y1="323.30" x2="51.00" y2="323.30" stroke="#000" stroke-width="1.3" />
<line x1="48.50" y1="297.40" x2="52.50" y2="297.40" stroke="#000" stroke-width="1.3" />
<text transform="translate(48.67,519.60) scale(1,1.09)" font-size="13.3" font-family="Liberation Serif" font-weight="bold" text-anchor="middle" >-9</text>
<text transform="translate(91.48,519.60) scale(1,1.09)" font-size="13.3" font-family="Liberation Serif" font-weight="bold" text-anchor="middle" >-6</text>
<text transform="translate(134.29,519.60) scale(1,1.09)" font-size="13.3" font-family="Liberation Serif" font-weight="bold" text-anchor="middle" >-3</text>
<text transform="translate(177.10,519.60) scale(1,1.09)" font-size="13.3" font-family="Liberation Serif" font-weight="bold" text-anchor="middle" >0</text>
<text transform="translate(219.91,519.60) scale(1,1.09)" font-size="13.3" font-family="Liberation Serif" font-weight="bold" text-anchor="middle" >3</text>
<text transform="translate(262.72,519.60) scale(1,1.09)" font-size="13.3" font-family="Liberation Serif" font-weight="bold" text-anchor="middle" >6</text>
<text transform="translate(305.53,519.60) scale(1,1.09)" font-size="13.3" font-family="Liberation Serif" font-weight="bold" text-anchor="middle" >9</text>
<text transform="translate(43.50,302.60) scale(1,1.09)" font-size="13.3" font-family="Liberation Serif" font-weight="bold" text-anchor="end" >70</text>
<text transform="translate(43.50,354.40) scale(1,1.09)" font-size="13.3" font-family="Liberation Serif" font-weight="bold" text-anchor="end" >35</text>
<text transform="translate(43.50,406.20) scale(1,1.09)" font-size="13.3" font-family="Liberation Serif" font-weight="bold" text-anchor="end" >0</text>
<text transform="translate(43.50,458.00) scale(1,1.09)" font-size="13.3" font-family="Liberation Serif" font-weight="bold" text-anchor="end" >-35</text>
<text transform="translate(43.50,509.80) scale(1,1.09)" font-size="13.3" font-family="Liberation Serif" font-weight="bold" text-anchor="end" >-70</text>
<text x="178.6" y="535.6" font-size="14.2" font-family="Liberation Serif" font-weight="bold" text-anchor="middle" >B (T)</text>
<text x="25.8" y="393.8" font-size="13.8" font-family="Liberation Serif" font-weight="bold" text-anchor="middle" textLength="69" lengthAdjust="spacingAndGlyphs" transform="rotate(-90 25.8 393.8)"><tspan font-weight="normal" font-size="15">ρ</tspan><tspan font-size="10.5" dy="3">xy</tspan><tspan dy="-3"> (μΩcm)</tspan></text>
<text x="42.8" y="287.2" font-size="18.5" font-family="Liberation Sans" font-weight="bold" text-anchor="start" letter-spacing="1.2">c)</text>
<text transform="translate(51.30,311.00) scale(1,1.05)" font-size="13.5" font-family="Liberation Serif" font-weight="bold" text-anchor="start" textLength="29" lengthAdjust="spacingAndGlyphs" >x = 0</text>
<line x1="51.50" y1="319.90" x2="74.00" y2="319.90" stroke="#000000" stroke-width="3.6" stroke-linecap="round"/>
<text transform="translate(79.50,323.70) scale(0.94,1.06)" font-size="10.8" font-family="Liberation Serif" font-weight="bold" text-anchor="start" >2 K</text>
<line x1="51.50" y1="332.70" x2="74.00" y2="332.70" stroke="#ff2020" stroke-width="3.6" stroke-linecap="round"/>
<text transform="translate(79.50,336.50) scale(0.94,1.06)" font-size="10.8" font-family="Liberation Serif" font-weight="bold" text-anchor="start" >10 K</text>
<line x1="51.50" y1="345.50" x2="74.00" y2="345.50" stroke="#4a80e0" stroke-width="3.6" stroke-linecap="round"/>
<text transform="translate(79.50,349.30) scale(0.94,1.06)" font-size="10.8" font-family="Liberation Serif" font-weight="bold" text-anchor="start" >20 K</text>
<line x1="51.50" y1="358.30" x2="74.00" y2="358.30" stroke="#2a8a2a" stroke-width="3.6" stroke-linecap="round"/>
<text transform="translate(79.50,362.10) scale(0.94,1.06)" font-size="10.8" font-family="Liberation Serif" font-weight="bold" text-anchor="start" >30 K</text>
<line x1="51.50" y1="371.10" x2="74.00" y2="371.10" stroke="#8a1aff" stroke-width="3.6" stroke-linecap="round"/>
<text transform="translate(79.50,374.90) scale(0.94,1.06)" font-size="10.8" font-family="Liberation Serif" font-weight="bold" text-anchor="start" >50 K</text>
<line x1="51.50" y1="383.90" x2="74.00" y2="383.90" stroke="#8a9030" stroke-width="3.6" stroke-linecap="round"/>
<text transform="translate(79.50,387.70) scale(0.94,1.06)" font-size="10.8" font-family="Liberation Serif" font-weight="bold" text-anchor="start" >70 K</text>
<line x1="107.50" y1="319.90" x2="130.00" y2="319.90" stroke="#3a9088" stroke-width="3.6" stroke-linecap="round"/>
<text transform="translate(135.50,323.70) scale(0.94,1.06)" font-size="10.8" font-family="Liberation Serif" font-weight="bold" text-anchor="start" >90 K</text>
<line x1="107.50" y1="332.70" x2="130.00" y2="332.70" stroke="#8b1010" stroke-width="3.6" stroke-linecap="round"/>
<text transform="translate(135.50,336.50) scale(0.94,1.06)" font-size="10.8" font-family="Liberation Serif" font-weight="bold" text-anchor="start" >110 K</text>
<line x1="107.50" y1="345.50" x2="130.00" y2="345.50" stroke="#f08a2a" stroke-width="3.6" stroke-linecap="round"/>
<text transform="translate(135.50,349.30) scale(0.94,1.06)" font-size="10.8" font-family="Liberation Serif" font-weight="bold" text-anchor="start" >130 K</text>
<line x1="107.50" y1="358.30" x2="130.00" y2="358.30" stroke="#f06a1a" stroke-width="3.6" stroke-linecap="round"/>
<text transform="translate(135.50,362.10) scale(0.94,1.06)" font-size="10.8" font-family="Liberation Serif" font-weight="bold" text-anchor="start" >150 K</text>
<line x1="107.50" y1="371.10" x2="130.00" y2="371.10" stroke="#7a1010" stroke-width="3.6" stroke-linecap="round"/>
<text transform="translate(135.50,374.90) scale(0.94,1.06)" font-size="10.8" font-family="Liberation Serif" font-weight="bold" text-anchor="start" >170 K</text>
<line x1="414.00" y1="401.75" x2="679.80" y2="401.75" stroke="#000" stroke-width="1.3" />
<line x1="547.10" y1="294.90" x2="547.10" y2="508.60" stroke="#000" stroke-width="1.3" />
<path d="M416.00,393.42 L416.74,393.42 L417.48,393.42 L418.21,393.42 L418.95,393.42 L419.69,393.42 L420.42,393.42 L421.16,393.42 L421.90,393.42 L422.63,393.42 L423.37,393.42 L424.10,393.42 L424.84,393.42 L425.58,393.42 L426.31,393.43 L427.05,393.43 L427.79,393.43 L428.52,393.43 L429.26,393.43 L430.00,393.43 L430.73,393.43 L431.47,393.43 L432.21,393.43 L432.94,393.43 L433.68,393.43 L434.42,393.44 L435.15,393.44 L435.89,393.44 L436.62,393.44 L437.36,393.44 L438.10,393.44 L438.83,393.45 L439.57,393.45 L440.31,393.45 L441.04,393.45 L441.78,393.45 L442.52,393.46 L443.25,393.46 L443.99,393.46 L444.73,393.47 L445.46,393.47 L446.20,393.47 L446.94,393.48 L447.67,393.48 L448.41,393.49 L449.15,393.49 L449.88,393.50 L450.62,393.50 L451.36,393.51 L452.09,393.51 L452.83,393.52 L453.56,393.53 L454.30,393.53 L455.04,393.54 L455.77,393.55 L456.51,393.56 L457.25,393.57 L457.98,393.58 L458.72,393.59 L459.46,393.60 L460.19,393.61 L460.93,393.63 L461.67,393.64 L462.40,393.66 L463.14,393.67 L463.88,393.69 L464.61,393.71 L465.35,393.73 L466.09,393.75 L466.82,393.77 L467.56,393.79 L468.29,393.82 L469.03,393.84 L469.77,393.87 L470.50,393.90 L471.24,393.93 L471.98,393.96 L472.71,394.00 L473.45,394.03 L474.19,394.07 L474.92,394.11 L475.66,394.15 L476.40,394.20 L477.13,394.24 L477.87,394.29 L478.61,394.35 L479.34,394.40 L480.08,394.46 L480.82,394.52 L481.55,394.58 L482.29,394.64 L483.02,394.71 L483.76,394.78 L484.50,394.86 L485.23,394.93 L485.97,395.01 L486.71,395.09 L487.44,395.18 L488.18,395.27 L488.92,395.36 L489.65,395.45 L490.39,395.54 L491.13,395.64 L491.86,395.74 L492.60,395.84 L493.34,395.94 L494.07,396.05 L494.81,396.15 L495.55,396.26 L496.28,396.37 L497.02,396.47 L497.75,396.58 L498.49,396.69 L499.23,396.80 L499.96,396.91 L500.70,397.02 L501.44,397.13 L502.17,397.23 L502.91,397.34 L503.65,397.44 L504.38,397.55 L505.12,397.65 L505.86,397.75 L506.59,397.84 L507.33,397.94 L508.07,398.03 L508.80,398.12 L509.54,398.21 L510.28,398.29 L511.01,398.37 L511.75,398.45 L512.48,398.53 L513.22,398.60 L513.96,398.67 L514.69,398.74 L515.43,398.81 L516.17,398.87 L516.90,398.93 L517.64,398.99 L518.38,399.04 L519.11,399.09 L519.85,399.14 L520.59,399.19 L521.32,399.23 L522.06,399.28 L522.80,399.32 L523.53,399.35 L524.27,399.39 L525.00,399.42 L525.74,399.46 L526.48,399.49 L527.21,399.52 L527.95,399.54 L528.69,399.57 L529.42,399.59 L530.16,399.62 L530.90,399.64 L531.63,399.66 L532.37,399.68 L533.11,399.70 L533.84,399.71 L534.58,399.73 L535.32,399.74 L536.05,399.76 L536.79,399.77 L537.53,399.78 L538.26,399.79 L539.00,399.81 L539.74,399.82 L540.47,399.83 L541.21,399.83 L541.94,399.84 L542.68,399.85 L543.42,399.86 L544.15,399.87 L544.89,399.87 L545.63,399.88 L546.36,399.88 L547.10,401.75 L547.84,403.62 L548.57,403.62 L549.31,403.63 L550.05,403.63 L550.78,403.64 L551.52,403.65 L552.26,403.66 L552.99,403.67 L553.73,403.67 L554.47,403.68 L555.20,403.69 L555.94,403.71 L556.67,403.72 L557.41,403.73 L558.15,403.74 L558.88,403.76 L559.62,403.77 L560.36,403.79 L561.09,403.80 L561.83,403.82 L562.57,403.84 L563.30,403.86 L564.04,403.88 L564.78,403.91 L565.51,403.93 L566.25,403.96 L566.99,403.98 L567.72,404.01 L568.46,404.04 L569.20,404.08 L569.93,404.11 L570.67,404.15 L571.40,404.18 L572.14,404.22 L572.88,404.27 L573.61,404.31 L574.35,404.36 L575.09,404.41 L575.82,404.46 L576.56,404.51 L577.30,404.57 L578.03,404.63 L578.77,404.69 L579.51,404.76 L580.24,404.83 L580.98,404.90 L581.72,404.97 L582.45,405.05 L583.19,405.13 L583.93,405.21 L584.66,405.29 L585.40,405.38 L586.13,405.47 L586.87,405.56 L587.61,405.66 L588.34,405.75 L589.08,405.85 L589.82,405.95 L590.55,406.06 L591.29,406.16 L592.03,406.27 L592.76,406.37 L593.50,406.48 L594.24,406.59 L594.97,406.70 L595.71,406.81 L596.45,406.92 L597.18,407.03 L597.92,407.13 L598.65,407.24 L599.39,407.35 L600.13,407.45 L600.86,407.56 L601.60,407.66 L602.34,407.76 L603.07,407.86 L603.81,407.96 L604.55,408.05 L605.28,408.14 L606.02,408.23 L606.76,408.32 L607.49,408.41 L608.23,408.49 L608.97,408.57 L609.70,408.64 L610.44,408.72 L611.18,408.79 L611.91,408.86 L612.65,408.92 L613.38,408.98 L614.12,409.04 L614.86,409.10 L615.59,409.15 L616.33,409.21 L617.07,409.26 L617.80,409.30 L618.54,409.35 L619.28,409.39 L620.01,409.43 L620.75,409.47 L621.49,409.50 L622.22,409.54 L622.96,409.57 L623.70,409.60 L624.43,409.63 L625.17,409.66 L625.91,409.68 L626.64,409.71 L627.38,409.73 L628.12,409.75 L628.85,409.77 L629.59,409.79 L630.32,409.81 L631.06,409.83 L631.80,409.84 L632.53,409.86 L633.27,409.87 L634.01,409.89 L634.74,409.90 L635.48,409.91 L636.22,409.92 L636.95,409.93 L637.69,409.94 L638.43,409.95 L639.16,409.96 L639.90,409.97 L640.64,409.97 L641.37,409.98 L642.11,409.99 L642.85,409.99 L643.58,410.00 L644.32,410.00 L645.05,410.01 L645.79,410.01 L646.53,410.02 L647.26,410.02 L648.00,410.03 L648.74,410.03 L649.47,410.03 L650.21,410.04 L650.95,410.04 L651.68,410.04 L652.42,410.05 L653.16,410.05 L653.89,410.05 L654.63,410.05 L655.37,410.05 L656.10,410.06 L656.84,410.06 L657.58,410.06 L658.31,410.06 L659.05,410.06 L659.78,410.06 L660.52,410.07 L661.26,410.07 L661.99,410.07 L662.73,410.07 L663.47,410.07 L664.20,410.07 L664.94,410.07 L665.68,410.07 L666.41,410.07 L667.15,410.07 L667.89,410.07 L668.62,410.08 L669.36,410.08 L670.10,410.08 L670.83,410.08 L671.57,410.08 L672.31,410.08 L673.04,410.08 L673.78,410.08 L674.51,410.08 L675.25,410.08 L675.99,410.08 L676.72,410.08 L677.46,410.08 L678.20,410.08" fill="none" stroke="#000000" stroke-width="3.8" stroke-linejoin="round" stroke-linecap="round" />
<path d="M416.00,397.73 L416.74,397.74 L417.48,397.75 L418.21,397.76 L418.95,397.77 L419.69,397.78 L420.42,397.79 L421.16,397.81 L421.90,397.82 L422.63,397.83 L423.37,397.84 L424.10,397.85 L424.84,397.86 L425.58,397.87 L426.31,397.88 L427.05,397.90 L427.79,397.91 L428.52,397.92 L429.26,397.93 L430.00,397.94 L430.73,397.95 L431.47,397.96 L432.21,397.98 L432.94,397.99 L433.68,398.00 L434.42,398.01 L435.15,398.02 L435.89,398.03 L436.62,398.04 L437.36,398.06 L438.10,398.07 L438.83,398.08 L439.57,398.09 L440.31,398.10 L441.04,398.11 L441.78,398.13 L442.52,398.14 L443.25,398.15 L443.99,398.16 L444.73,398.17 L445.46,398.18 L446.20,398.20 L446.94,398.21 L447.67,398.22 L448.41,398.23 L449.15,398.24 L449.88,398.26 L450.62,398.27 L451.36,398.28 L452.09,398.29 L452.83,398.30 L453.56,398.32 L454.30,398.33 L455.04,398.34 L455.77,398.35 L456.51,398.36 L457.25,398.38 L457.98,398.39 L458.72,398.40 L459.46,398.41 L460.19,398.43 L460.93,398.44 L461.67,398.45 L462.40,398.46 L463.14,398.48 L463.88,398.49 L464.61,398.50 L465.35,398.52 L466.09,398.53 L466.82,398.54 L467.56,398.55 L468.29,398.57 L469.03,398.58 L469.77,398.59 L470.50,398.61 L471.24,398.62 L471.98,398.63 L472.71,398.65 L473.45,398.66 L474.19,398.68 L474.92,398.69 L475.66,398.70 L476.40,398.72 L477.13,398.73 L477.87,398.74 L478.61,398.76 L479.34,398.77 L480.08,398.79 L480.82,398.80 L481.55,398.82 L482.29,398.83 L483.02,398.85 L483.76,398.86 L484.50,398.88 L485.23,398.89 L485.97,398.91 L486.71,398.92 L487.44,398.94 L488.18,398.95 L488.92,398.97 L489.65,398.98 L490.39,399.00 L491.13,399.01 L491.86,399.03 L492.60,399.05 L493.34,399.06 L494.07,399.08 L494.81,399.10 L495.55,399.11 L496.28,399.13 L497.02,399.15 L497.75,399.16 L498.49,399.18 L499.23,399.20 L499.96,399.22 L500.70,399.23 L501.44,399.25 L502.17,399.27 L502.91,399.29 L503.65,399.31 L504.38,399.33 L505.12,399.35 L505.86,399.37 L506.59,399.39 L507.33,399.41 L508.07,399.43 L508.80,399.45 L509.54,399.47 L510.28,399.49 L511.01,399.51 L511.75,399.53 L512.48,399.55 L513.22,399.57 L513.96,399.59 L514.69,399.62 L515.43,399.64 L516.17,399.66 L516.90,399.69 L517.64,399.71 L518.38,399.73 L519.11,399.76 L519.85,399.78 L520.59,399.81 L521.32,399.83 L522.06,399.86 L522.80,399.88 L523.53,399.91 L524.27,399.94 L525.00,399.97 L525.74,399.99 L526.48,400.02 L527.21,400.05 L527.95,400.08 L528.69,400.11 L529.42,400.14 L530.16,400.17 L530.90,400.20 L531.63,400.23 L532.37,400.26 L533.11,400.30 L533.84,400.33 L534.58,400.36 L535.32,400.40 L536.05,400.43 L536.79,400.47 L537.53,400.50 L538.26,400.54 L539.00,400.58 L539.74,400.62 L540.47,400.65 L541.21,400.69 L541.94,400.73 L542.68,400.78 L543.42,400.82 L544.15,400.86 L544.89,400.90 L545.63,400.95 L546.36,400.99 L547.10,401.75 L547.84,402.51 L548.57,402.55 L549.31,402.60 L550.05,402.64 L550.78,402.68 L551.52,402.72 L552.26,402.77 L552.99,402.81 L553.73,402.85 L554.47,402.88 L555.20,402.92 L555.94,402.96 L556.67,403.00 L557.41,403.03 L558.15,403.07 L558.88,403.10 L559.62,403.14 L560.36,403.17 L561.09,403.20 L561.83,403.24 L562.57,403.27 L563.30,403.30 L564.04,403.33 L564.78,403.36 L565.51,403.39 L566.25,403.42 L566.99,403.45 L567.72,403.48 L568.46,403.51 L569.20,403.53 L569.93,403.56 L570.67,403.59 L571.40,403.62 L572.14,403.64 L572.88,403.67 L573.61,403.69 L574.35,403.72 L575.09,403.74 L575.82,403.77 L576.56,403.79 L577.30,403.81 L578.03,403.84 L578.77,403.86 L579.51,403.88 L580.24,403.91 L580.98,403.93 L581.72,403.95 L582.45,403.97 L583.19,403.99 L583.93,404.01 L584.66,404.03 L585.40,404.05 L586.13,404.07 L586.87,404.09 L587.61,404.11 L588.34,404.13 L589.08,404.15 L589.82,404.17 L590.55,404.19 L591.29,404.21 L592.03,404.23 L592.76,404.25 L593.50,404.27 L594.24,404.28 L594.97,404.30 L595.71,404.32 L596.45,404.34 L597.18,404.35 L597.92,404.37 L598.65,404.39 L599.39,404.40 L600.13,404.42 L600.86,404.44 L601.60,404.45 L602.34,404.47 L603.07,404.49 L603.81,404.50 L604.55,404.52 L605.28,404.53 L606.02,404.55 L606.76,404.56 L607.49,404.58 L608.23,404.59 L608.97,404.61 L609.70,404.62 L610.44,404.64 L611.18,404.65 L611.91,404.67 L612.65,404.68 L613.38,404.70 L614.12,404.71 L614.86,404.73 L615.59,404.74 L616.33,404.76 L617.07,404.77 L617.80,404.78 L618.54,404.80 L619.28,404.81 L620.01,404.82 L620.75,404.84 L621.49,404.85 L622.22,404.87 L622.96,404.88 L623.70,404.89 L624.43,404.91 L625.17,404.92 L625.91,404.93 L626.64,404.95 L627.38,404.96 L628.12,404.97 L628.85,404.98 L629.59,405.00 L630.32,405.01 L631.06,405.02 L631.80,405.04 L632.53,405.05 L633.27,405.06 L634.01,405.07 L634.74,405.09 L635.48,405.10 L636.22,405.11 L636.95,405.12 L637.69,405.14 L638.43,405.15 L639.16,405.16 L639.90,405.17 L640.64,405.18 L641.37,405.20 L642.11,405.21 L642.85,405.22 L643.58,405.23 L644.32,405.24 L645.05,405.26 L645.79,405.27 L646.53,405.28 L647.26,405.29 L648.00,405.30 L648.74,405.32 L649.47,405.33 L650.21,405.34 L650.95,405.35 L651.68,405.36 L652.42,405.37 L653.16,405.39 L653.89,405.40 L654.63,405.41 L655.37,405.42 L656.10,405.43 L656.84,405.44 L657.58,405.46 L658.31,405.47 L659.05,405.48 L659.78,405.49 L660.52,405.50 L661.26,405.51 L661.99,405.52 L662.73,405.54 L663.47,405.55 L664.20,405.56 L664.94,405.57 L665.68,405.58 L666.41,405.59 L667.15,405.60 L667.89,405.62 L668.62,405.63 L669.36,405.64 L670.10,405.65 L670.83,405.66 L671.57,405.67 L672.31,405.68 L673.04,405.69 L673.78,405.71 L674.51,405.72 L675.25,405.73 L675.99,405.74 L676.72,405.75 L677.46,405.76 L678.20,405.77" fill="none" stroke="#ff2020" stroke-width="3.8" stroke-linejoin="round" stroke-linecap="round" />
<path d="M416.00,408.75 L416.74,408.72 L417.48,408.69 L418.21,408.66 L418.95,408.63 L419.69,408.60 L420.42,408.57 L421.16,408.53 L421.90,408.50 L422.63,408.47 L423.37,408.44 L424.10,408.41 L424.84,408.38 L425.58,408.35 L426.31,408.31 L427.05,408.28 L427.79,408.25 L428.52,408.22 L429.26,408.19 L430.00,408.16 L430.73,408.13 L431.47,408.10 L432.21,408.06 L432.94,408.03 L433.68,408.00 L434.42,407.97 L435.15,407.94 L435.89,407.91 L436.62,407.88 L437.36,407.84 L438.10,407.81 L438.83,407.78 L439.57,407.75 L440.31,407.72 L441.04,407.69 L441.78,407.66 L442.52,407.63 L443.25,407.59 L443.99,407.56 L444.73,407.53 L445.46,407.50 L446.20,407.47 L446.94,407.44 L447.67,407.41 L448.41,407.37 L449.15,407.34 L449.88,407.31 L450.62,407.28 L451.36,407.25 L452.09,407.22 L452.83,407.19 L453.56,407.15 L454.30,407.12 L455.04,407.09 L455.77,407.06 L456.51,407.03 L457.25,407.00 L457.98,406.97 L458.72,406.94 L459.46,406.90 L460.19,406.87 L460.93,406.84 L461.67,406.81 L462.40,406.78 L463.14,406.75 L463.88,406.72 L464.61,406.68 L465.35,406.65 L466.09,406.62 L466.82,406.59 L467.56,406.56 L468.29,406.53 L469.03,406.50 L469.77,406.47 L470.50,406.43 L471.24,406.40 L471.98,406.37 L472.71,406.34 L473.45,406.31 L474.19,406.28 L474.92,406.25 L475.66,406.21 L476.40,406.18 L477.13,406.15 L477.87,406.12 L478.61,406.09 L479.34,406.06 L480.08,406.03 L480.82,406.00 L481.55,405.96 L482.29,405.93 L483.02,405.90 L483.76,405.87 L484.50,405.84 L485.23,405.81 L485.97,405.78 L486.71,405.74 L487.44,405.71 L488.18,405.68 L488.92,405.65 L489.65,405.62 L490.39,405.59 L491.13,405.56 L491.86,405.53 L492.60,405.49 L493.34,405.46 L494.07,405.43 L494.81,405.40 L495.55,405.37 L496.28,405.34 L497.02,405.31 L497.75,405.27 L498.49,405.24 L499.23,405.21 L499.96,405.18 L500.70,405.15 L501.44,405.12 L502.17,405.09 L502.91,405.06 L503.65,405.02 L504.38,404.99 L505.12,404.96 L505.86,404.93 L506.59,404.90 L507.33,404.87 L508.07,404.84 L508.80,404.80 L509.54,404.77 L510.28,404.74 L511.01,404.71 L511.75,404.68 L512.48,404.65 L513.22,404.62 L513.96,404.58 L514.69,404.55 L515.43,404.52 L516.17,404.49 L516.90,404.46 L517.64,404.43 L518.38,404.40 L519.11,404.37 L519.85,404.33 L520.59,404.30 L521.32,404.27 L522.06,404.24 L522.80,404.21 L523.53,404.18 L524.27,404.15 L525.00,404.11 L525.74,404.08 L526.48,404.05 L527.21,404.02 L527.95,403.99 L528.69,403.96 L529.42,403.93 L530.16,403.90 L530.90,403.86 L531.63,403.83 L532.37,403.80 L533.11,403.77 L533.84,403.74 L534.58,403.71 L535.32,403.68 L536.05,403.64 L536.79,403.61 L537.53,403.58 L538.26,403.55 L539.00,403.52 L539.74,403.49 L540.47,403.46 L541.21,403.43 L541.94,403.39 L542.68,403.36 L543.42,403.33 L544.15,403.30 L544.89,403.27 L545.63,403.24 L546.36,403.21 L547.10,401.75 L547.84,400.29 L548.57,400.26 L549.31,400.23 L550.05,400.20 L550.78,400.17 L551.52,400.14 L552.26,400.11 L552.99,400.07 L553.73,400.04 L554.47,400.01 L555.20,399.98 L555.94,399.95 L556.67,399.92 L557.41,399.89 L558.15,399.86 L558.88,399.82 L559.62,399.79 L560.36,399.76 L561.09,399.73 L561.83,399.70 L562.57,399.67 L563.30,399.64 L564.04,399.60 L564.78,399.57 L565.51,399.54 L566.25,399.51 L566.99,399.48 L567.72,399.45 L568.46,399.42 L569.20,399.39 L569.93,399.35 L570.67,399.32 L571.40,399.29 L572.14,399.26 L572.88,399.23 L573.61,399.20 L574.35,399.17 L575.09,399.13 L575.82,399.10 L576.56,399.07 L577.30,399.04 L578.03,399.01 L578.77,398.98 L579.51,398.95 L580.24,398.92 L580.98,398.88 L581.72,398.85 L582.45,398.82 L583.19,398.79 L583.93,398.76 L584.66,398.73 L585.40,398.70 L586.13,398.66 L586.87,398.63 L587.61,398.60 L588.34,398.57 L589.08,398.54 L589.82,398.51 L590.55,398.48 L591.29,398.44 L592.03,398.41 L592.76,398.38 L593.50,398.35 L594.24,398.32 L594.97,398.29 L595.71,398.26 L596.45,398.23 L597.18,398.19 L597.92,398.16 L598.65,398.13 L599.39,398.10 L600.13,398.07 L600.86,398.04 L601.60,398.01 L602.34,397.97 L603.07,397.94 L603.81,397.91 L604.55,397.88 L605.28,397.85 L606.02,397.82 L606.76,397.79 L607.49,397.76 L608.23,397.72 L608.97,397.69 L609.70,397.66 L610.44,397.63 L611.18,397.60 L611.91,397.57 L612.65,397.54 L613.38,397.50 L614.12,397.47 L614.86,397.44 L615.59,397.41 L616.33,397.38 L617.07,397.35 L617.80,397.32 L618.54,397.29 L619.28,397.25 L620.01,397.22 L620.75,397.19 L621.49,397.16 L622.22,397.13 L622.96,397.10 L623.70,397.07 L624.43,397.03 L625.17,397.00 L625.91,396.97 L626.64,396.94 L627.38,396.91 L628.12,396.88 L628.85,396.85 L629.59,396.82 L630.32,396.78 L631.06,396.75 L631.80,396.72 L632.53,396.69 L633.27,396.66 L634.01,396.63 L634.74,396.60 L635.48,396.56 L636.22,396.53 L636.95,396.50 L637.69,396.47 L638.43,396.44 L639.16,396.41 L639.90,396.38 L640.64,396.35 L641.37,396.31 L642.11,396.28 L642.85,396.25 L643.58,396.22 L644.32,396.19 L645.05,396.16 L645.79,396.13 L646.53,396.09 L647.26,396.06 L648.00,396.03 L648.74,396.00 L649.47,395.97 L650.21,395.94 L650.95,395.91 L651.68,395.87 L652.42,395.84 L653.16,395.81 L653.89,395.78 L654.63,395.75 L655.37,395.72 L656.10,395.69 L656.84,395.66 L657.58,395.62 L658.31,395.59 L659.05,395.56 L659.78,395.53 L660.52,395.50 L661.26,395.47 L661.99,395.44 L662.73,395.40 L663.47,395.37 L664.20,395.34 L664.94,395.31 L665.68,395.28 L666.41,395.25 L667.15,395.22 L667.89,395.19 L668.62,395.15 L669.36,395.12 L670.10,395.09 L670.83,395.06 L671.57,395.03 L672.31,395.00 L673.04,394.97 L673.78,394.93 L674.51,394.90 L675.25,394.87 L675.99,394.84 L676.72,394.81 L677.46,394.78 L678.20,394.75" fill="none" stroke="#4a80e0" stroke-width="3.8" stroke-linejoin="round" stroke-linecap="round" />
<path d="M416.00,413.89 L416.74,413.84 L417.48,413.79 L418.21,413.73 L418.95,413.68 L419.69,413.63 L420.42,413.57 L421.16,413.52 L421.90,413.47 L422.63,413.41 L423.37,413.36 L424.10,413.31 L424.84,413.25 L425.58,413.20 L426.31,413.15 L427.05,413.09 L427.79,413.04 L428.52,412.99 L429.26,412.93 L430.00,412.88 L430.73,412.83 L431.47,412.77 L432.21,412.72 L432.94,412.67 L433.68,412.61 L434.42,412.56 L435.15,412.51 L435.89,412.45 L436.62,412.40 L437.36,412.35 L438.10,412.29 L438.83,412.24 L439.57,412.19 L440.31,412.13 L441.04,412.08 L441.78,412.02 L442.52,411.97 L443.25,411.92 L443.99,411.86 L444.73,411.81 L445.46,411.76 L446.20,411.70 L446.94,411.65 L447.67,411.60 L448.41,411.54 L449.15,411.49 L449.88,411.44 L450.62,411.38 L451.36,411.33 L452.09,411.28 L452.83,411.22 L453.56,411.17 L454.30,411.12 L455.04,411.06 L455.77,411.01 L456.51,410.96 L457.25,410.90 L457.98,410.85 L458.72,410.80 L459.46,410.74 L460.19,410.69 L460.93,410.64 L461.67,410.58 L462.40,410.53 L463.14,410.48 L463.88,410.42 L464.61,410.37 L465.35,410.32 L466.09,410.26 L466.82,410.21 L467.56,410.16 L468.29,410.10 L469.03,410.05 L469.77,409.99 L470.50,409.94 L471.24,409.89 L471.98,409.83 L472.71,409.78 L473.45,409.73 L474.19,409.67 L474.92,409.62 L475.66,409.57 L476.40,409.51 L477.13,409.46 L477.87,409.41 L478.61,409.35 L479.34,409.30 L480.08,409.25 L480.82,409.19 L481.55,409.14 L482.29,409.09 L483.02,409.03 L483.76,408.98 L484.50,408.93 L485.23,408.87 L485.97,408.82 L486.71,408.77 L487.44,408.71 L488.18,408.66 L488.92,408.61 L489.65,408.55 L490.39,408.50 L491.13,408.45 L491.86,408.39 L492.60,408.34 L493.34,408.29 L494.07,408.23 L494.81,408.18 L495.55,408.13 L496.28,408.07 L497.02,408.02 L497.75,407.96 L498.49,407.91 L499.23,407.86 L499.96,407.80 L500.70,407.75 L501.44,407.70 L502.17,407.64 L502.91,407.59 L503.65,407.54 L504.38,407.48 L505.12,407.43 L505.86,407.38 L506.59,407.32 L507.33,407.27 L508.07,407.22 L508.80,407.16 L509.54,407.11 L510.28,407.06 L511.01,407.00 L511.75,406.95 L512.48,406.90 L513.22,406.84 L513.96,406.79 L514.69,406.74 L515.43,406.68 L516.17,406.63 L516.90,406.58 L517.64,406.52 L518.38,406.47 L519.11,406.42 L519.85,406.36 L520.59,406.31 L521.32,406.26 L522.06,406.20 L522.80,406.15 L523.53,406.10 L524.27,406.04 L525.00,405.99 L525.74,405.93 L526.48,405.88 L527.21,405.83 L527.95,405.77 L528.69,405.72 L529.42,405.67 L530.16,405.61 L530.90,405.56 L531.63,405.51 L532.37,405.45 L533.11,405.40 L533.84,405.35 L534.58,405.29 L535.32,405.24 L536.05,405.19 L536.79,405.13 L537.53,405.08 L538.26,405.03 L539.00,404.97 L539.74,404.92 L540.47,404.87 L541.21,404.81 L541.94,404.76 L542.68,404.71 L543.42,404.65 L544.15,404.60 L544.89,404.55 L545.63,404.49 L546.36,404.44 L547.10,401.75 L547.84,399.06 L548.57,399.01 L549.31,398.95 L550.05,398.90 L550.78,398.85 L551.52,398.79 L552.26,398.74 L552.99,398.69 L553.73,398.63 L554.47,398.58 L555.20,398.53 L555.94,398.47 L556.67,398.42 L557.41,398.37 L558.15,398.31 L558.88,398.26 L559.62,398.21 L560.36,398.15 L561.09,398.10 L561.83,398.05 L562.57,397.99 L563.30,397.94 L564.04,397.89 L564.78,397.83 L565.51,397.78 L566.25,397.73 L566.99,397.67 L567.72,397.62 L568.46,397.57 L569.20,397.51 L569.93,397.46 L570.67,397.40 L571.40,397.35 L572.14,397.30 L572.88,397.24 L573.61,397.19 L574.35,397.14 L575.09,397.08 L575.82,397.03 L576.56,396.98 L577.30,396.92 L578.03,396.87 L578.77,396.82 L579.51,396.76 L580.24,396.71 L580.98,396.66 L581.72,396.60 L582.45,396.55 L583.19,396.50 L583.93,396.44 L584.66,396.39 L585.40,396.34 L586.13,396.28 L586.87,396.23 L587.61,396.18 L588.34,396.12 L589.08,396.07 L589.82,396.02 L590.55,395.96 L591.29,395.91 L592.03,395.86 L592.76,395.80 L593.50,395.75 L594.24,395.70 L594.97,395.64 L595.71,395.59 L596.45,395.54 L597.18,395.48 L597.92,395.43 L598.65,395.37 L599.39,395.32 L600.13,395.27 L600.86,395.21 L601.60,395.16 L602.34,395.11 L603.07,395.05 L603.81,395.00 L604.55,394.95 L605.28,394.89 L606.02,394.84 L606.76,394.79 L607.49,394.73 L608.23,394.68 L608.97,394.63 L609.70,394.57 L610.44,394.52 L611.18,394.47 L611.91,394.41 L612.65,394.36 L613.38,394.31 L614.12,394.25 L614.86,394.20 L615.59,394.15 L616.33,394.09 L617.07,394.04 L617.80,393.99 L618.54,393.93 L619.28,393.88 L620.01,393.83 L620.75,393.77 L621.49,393.72 L622.22,393.67 L622.96,393.61 L623.70,393.56 L624.43,393.51 L625.17,393.45 L625.91,393.40 L626.64,393.34 L627.38,393.29 L628.12,393.24 L628.85,393.18 L629.59,393.13 L630.32,393.08 L631.06,393.02 L631.80,392.97 L632.53,392.92 L633.27,392.86 L634.01,392.81 L634.74,392.76 L635.48,392.70 L636.22,392.65 L636.95,392.60 L637.69,392.54 L638.43,392.49 L639.16,392.44 L639.90,392.38 L640.64,392.33 L641.37,392.28 L642.11,392.22 L642.85,392.17 L643.58,392.12 L644.32,392.06 L645.05,392.01 L645.79,391.96 L646.53,391.90 L647.26,391.85 L648.00,391.80 L648.74,391.74 L649.47,391.69 L650.21,391.64 L650.95,391.58 L651.68,391.53 L652.42,391.48 L653.16,391.42 L653.89,391.37 L654.63,391.31 L655.37,391.26 L656.10,391.21 L656.84,391.15 L657.58,391.10 L658.31,391.05 L659.05,390.99 L659.78,390.94 L660.52,390.89 L661.26,390.83 L661.99,390.78 L662.73,390.73 L663.47,390.67 L664.20,390.62 L664.94,390.57 L665.68,390.51 L666.41,390.46 L667.15,390.41 L667.89,390.35 L668.62,390.30 L669.36,390.25 L670.10,390.19 L670.83,390.14 L671.57,390.09 L672.31,390.03 L673.04,389.98 L673.78,389.93 L674.51,389.87 L675.25,389.82 L675.99,389.77 L676.72,389.71 L677.46,389.66 L678.20,389.61" fill="none" stroke="#2a8a2a" stroke-width="3.8" stroke-linejoin="round" stroke-linecap="round" />
<path d="M416.00,417.27 L416.74,417.22 L417.48,417.17 L418.21,417.12 L418.95,417.07 L419.69,417.02 L420.42,416.97 L421.16,416.92 L421.90,416.87 L422.63,416.82 L423.37,416.77 L424.10,416.72 L424.84,416.68 L425.58,416.63 L426.31,416.58 L427.05,416.53 L427.79,416.48 L428.52,416.43 L429.26,416.38 L430.00,416.33 L430.73,416.28 L431.47,416.23 L432.21,416.18 L432.94,416.13 L433.68,416.09 L434.42,416.04 L435.15,415.99 L435.89,415.94 L436.62,415.89 L437.36,415.84 L438.10,415.79 L438.83,415.74 L439.57,415.69 L440.31,415.64 L441.04,415.59 L441.78,415.55 L442.52,415.50 L443.25,415.45 L443.99,415.40 L444.73,415.35 L445.46,415.30 L446.20,415.25 L446.94,415.20 L447.67,415.15 L448.41,415.10 L449.15,415.05 L449.88,415.00 L450.62,414.96 L451.36,414.91 L452.09,414.86 L452.83,414.81 L453.56,414.76 L454.30,414.71 L455.04,414.66 L455.77,414.61 L456.51,414.56 L457.25,414.51 L457.98,414.46 L458.72,414.41 L459.46,414.37 L460.19,414.32 L460.93,414.27 L461.67,414.22 L462.40,414.17 L463.14,414.12 L463.88,414.07 L464.61,414.02 L465.35,413.97 L466.09,413.92 L466.82,413.87 L467.56,413.82 L468.29,413.78 L469.03,413.73 L469.77,413.68 L470.50,413.63 L471.24,413.58 L471.98,413.53 L472.71,413.48 L473.45,413.43 L474.19,413.38 L474.92,413.33 L475.66,413.28 L476.40,413.24 L477.13,413.19 L477.87,413.14 L478.61,413.09 L479.34,413.04 L480.08,412.99 L480.82,412.94 L481.55,412.89 L482.29,412.84 L483.02,412.79 L483.76,412.74 L484.50,412.69 L485.23,412.65 L485.97,412.60 L486.71,412.55 L487.44,412.50 L488.18,412.45 L488.92,412.40 L489.65,412.35 L490.39,412.30 L491.13,412.25 L491.86,412.20 L492.60,412.15 L493.34,412.10 L494.07,412.06 L494.81,412.01 L495.55,411.96 L496.28,411.91 L497.02,411.86 L497.75,411.81 L498.49,411.76 L499.23,411.71 L499.96,411.66 L500.70,411.61 L501.44,411.56 L502.17,411.51 L502.91,411.47 L503.65,411.42 L504.38,411.37 L505.12,411.32 L505.86,411.27 L506.59,411.22 L507.33,411.17 L508.07,411.12 L508.80,411.07 L509.54,411.02 L510.28,410.97 L511.01,410.93 L511.75,410.88 L512.48,410.83 L513.22,410.78 L513.96,410.73 L514.69,410.68 L515.43,410.63 L516.17,410.58 L516.90,410.53 L517.64,410.48 L518.38,410.43 L519.11,410.38 L519.85,410.34 L520.59,410.29 L521.32,410.24 L522.06,410.19 L522.80,410.14 L523.53,410.09 L524.27,410.04 L525.00,409.99 L525.74,409.94 L526.48,409.89 L527.21,409.84 L527.95,409.79 L528.69,409.75 L529.42,409.70 L530.16,409.65 L530.90,409.60 L531.63,409.55 L532.37,409.50 L533.11,409.45 L533.84,409.40 L534.58,409.35 L535.32,409.30 L536.05,409.25 L536.79,409.20 L537.53,409.16 L538.26,409.11 L539.00,409.06 L539.74,409.01 L540.47,408.96 L541.21,408.91 L541.94,408.86 L542.68,408.81 L543.42,408.76 L544.15,408.71 L544.89,408.66 L545.63,408.62 L546.36,408.57 L547.10,401.75 L547.84,394.93 L548.57,394.88 L549.31,394.84 L550.05,394.79 L550.78,394.74 L551.52,394.69 L552.26,394.64 L552.99,394.59 L553.73,394.54 L554.47,394.49 L555.20,394.44 L555.94,394.39 L556.67,394.34 L557.41,394.30 L558.15,394.25 L558.88,394.20 L559.62,394.15 L560.36,394.10 L561.09,394.05 L561.83,394.00 L562.57,393.95 L563.30,393.90 L564.04,393.85 L564.78,393.80 L565.51,393.75 L566.25,393.71 L566.99,393.66 L567.72,393.61 L568.46,393.56 L569.20,393.51 L569.93,393.46 L570.67,393.41 L571.40,393.36 L572.14,393.31 L572.88,393.26 L573.61,393.21 L574.35,393.16 L575.09,393.12 L575.82,393.07 L576.56,393.02 L577.30,392.97 L578.03,392.92 L578.77,392.87 L579.51,392.82 L580.24,392.77 L580.98,392.72 L581.72,392.67 L582.45,392.62 L583.19,392.57 L583.93,392.53 L584.66,392.48 L585.40,392.43 L586.13,392.38 L586.87,392.33 L587.61,392.28 L588.34,392.23 L589.08,392.18 L589.82,392.13 L590.55,392.08 L591.29,392.03 L592.03,391.99 L592.76,391.94 L593.50,391.89 L594.24,391.84 L594.97,391.79 L595.71,391.74 L596.45,391.69 L597.18,391.64 L597.92,391.59 L598.65,391.54 L599.39,391.49 L600.13,391.44 L600.86,391.40 L601.60,391.35 L602.34,391.30 L603.07,391.25 L603.81,391.20 L604.55,391.15 L605.28,391.10 L606.02,391.05 L606.76,391.00 L607.49,390.95 L608.23,390.90 L608.97,390.85 L609.70,390.81 L610.44,390.76 L611.18,390.71 L611.91,390.66 L612.65,390.61 L613.38,390.56 L614.12,390.51 L614.86,390.46 L615.59,390.41 L616.33,390.36 L617.07,390.31 L617.80,390.26 L618.54,390.22 L619.28,390.17 L620.01,390.12 L620.75,390.07 L621.49,390.02 L622.22,389.97 L622.96,389.92 L623.70,389.87 L624.43,389.82 L625.17,389.77 L625.91,389.72 L626.64,389.68 L627.38,389.63 L628.12,389.58 L628.85,389.53 L629.59,389.48 L630.32,389.43 L631.06,389.38 L631.80,389.33 L632.53,389.28 L633.27,389.23 L634.01,389.18 L634.74,389.13 L635.48,389.09 L636.22,389.04 L636.95,388.99 L637.69,388.94 L638.43,388.89 L639.16,388.84 L639.90,388.79 L640.64,388.74 L641.37,388.69 L642.11,388.64 L642.85,388.59 L643.58,388.54 L644.32,388.50 L645.05,388.45 L645.79,388.40 L646.53,388.35 L647.26,388.30 L648.00,388.25 L648.74,388.20 L649.47,388.15 L650.21,388.10 L650.95,388.05 L651.68,388.00 L652.42,387.95 L653.16,387.91 L653.89,387.86 L654.63,387.81 L655.37,387.76 L656.10,387.71 L656.84,387.66 L657.58,387.61 L658.31,387.56 L659.05,387.51 L659.78,387.46 L660.52,387.41 L661.26,387.37 L661.99,387.32 L662.73,387.27 L663.47,387.22 L664.20,387.17 L664.94,387.12 L665.68,387.07 L666.41,387.02 L667.15,386.97 L667.89,386.92 L668.62,386.87 L669.36,386.82 L670.10,386.78 L670.83,386.73 L671.57,386.68 L672.31,386.63 L673.04,386.58 L673.78,386.53 L674.51,386.48 L675.25,386.43 L675.99,386.38 L676.72,386.33 L677.46,386.28 L678.20,386.23" fill="none" stroke="#8a9030" stroke-width="3.8" stroke-linejoin="round" stroke-linecap="round" />
<path d="M416.00,414.21 L416.74,414.16 L417.48,414.10 L418.21,414.05 L418.95,413.99 L419.69,413.94 L420.42,413.88 L421.16,413.83 L421.90,413.77 L422.63,413.71 L423.37,413.66 L424.10,413.60 L424.84,413.55 L425.58,413.49 L426.31,413.44 L427.05,413.38 L427.79,413.33 L428.52,413.27 L429.26,413.22 L430.00,413.16 L430.73,413.11 L431.47,413.05 L432.21,413.00 L432.94,412.94 L433.68,412.89 L434.42,412.83 L435.15,412.78 L435.89,412.72 L436.62,412.67 L437.36,412.61 L438.10,412.56 L438.83,412.50 L439.57,412.45 L440.31,412.39 L441.04,412.33 L441.78,412.28 L442.52,412.22 L443.25,412.17 L443.99,412.11 L444.73,412.06 L445.46,412.00 L446.20,411.95 L446.94,411.89 L447.67,411.84 L448.41,411.78 L449.15,411.73 L449.88,411.67 L450.62,411.62 L451.36,411.56 L452.09,411.51 L452.83,411.45 L453.56,411.40 L454.30,411.34 L455.04,411.29 L455.77,411.23 L456.51,411.18 L457.25,411.12 L457.98,411.07 L458.72,411.01 L459.46,410.95 L460.19,410.90 L460.93,410.84 L461.67,410.79 L462.40,410.73 L463.14,410.68 L463.88,410.62 L464.61,410.57 L465.35,410.51 L466.09,410.46 L466.82,410.40 L467.56,410.35 L468.29,410.29 L469.03,410.24 L469.77,410.18 L470.50,410.13 L471.24,410.07 L471.98,410.02 L472.71,409.96 L473.45,409.91 L474.19,409.85 L474.92,409.80 L475.66,409.74 L476.40,409.69 L477.13,409.63 L477.87,409.57 L478.61,409.52 L479.34,409.46 L480.08,409.41 L480.82,409.35 L481.55,409.30 L482.29,409.24 L483.02,409.19 L483.76,409.13 L484.50,409.08 L485.23,409.02 L485.97,408.97 L486.71,408.91 L487.44,408.86 L488.18,408.80 L488.92,408.75 L489.65,408.69 L490.39,408.64 L491.13,408.58 L491.86,408.53 L492.60,408.47 L493.34,408.42 L494.07,408.36 L494.81,408.30 L495.55,408.25 L496.28,408.19 L497.02,408.14 L497.75,408.08 L498.49,408.03 L499.23,407.97 L499.96,407.92 L500.70,407.86 L501.44,407.81 L502.17,407.75 L502.91,407.70 L503.65,407.64 L504.38,407.59 L505.12,407.53 L505.86,407.48 L506.59,407.42 L507.33,407.37 L508.07,407.31 L508.80,407.26 L509.54,407.20 L510.28,407.15 L511.01,407.09 L511.75,407.04 L512.48,406.98 L513.22,406.92 L513.96,406.87 L514.69,406.81 L515.43,406.76 L516.17,406.70 L516.90,406.65 L517.64,406.59 L518.38,406.54 L519.11,406.48 L519.85,406.43 L520.59,406.37 L521.32,406.32 L522.06,406.26 L522.80,406.21 L523.53,406.15 L524.27,406.10 L525.00,406.04 L525.74,405.99 L526.48,405.93 L527.21,405.88 L527.95,405.82 L528.69,405.77 L529.42,405.71 L530.16,405.66 L530.90,405.60 L531.63,405.54 L532.37,405.49 L533.11,405.43 L533.84,405.38 L534.58,405.32 L535.32,405.27 L536.05,405.21 L536.79,405.16 L537.53,405.10 L538.26,405.05 L539.00,404.99 L539.74,404.94 L540.47,404.88 L541.21,404.83 L541.94,404.77 L542.68,404.72 L543.42,404.66 L544.15,404.61 L544.89,404.55 L545.63,404.50 L546.36,404.44 L547.10,401.75 L547.84,399.06 L548.57,399.00 L549.31,398.95 L550.05,398.89 L550.78,398.84 L551.52,398.78 L552.26,398.73 L552.99,398.67 L553.73,398.62 L554.47,398.56 L555.20,398.51 L555.94,398.45 L556.67,398.40 L557.41,398.34 L558.15,398.29 L558.88,398.23 L559.62,398.18 L560.36,398.12 L561.09,398.07 L561.83,398.01 L562.57,397.96 L563.30,397.90 L564.04,397.84 L564.78,397.79 L565.51,397.73 L566.25,397.68 L566.99,397.62 L567.72,397.57 L568.46,397.51 L569.20,397.46 L569.93,397.40 L570.67,397.35 L571.40,397.29 L572.14,397.24 L572.88,397.18 L573.61,397.13 L574.35,397.07 L575.09,397.02 L575.82,396.96 L576.56,396.91 L577.30,396.85 L578.03,396.80 L578.77,396.74 L579.51,396.69 L580.24,396.63 L580.98,396.58 L581.72,396.52 L582.45,396.46 L583.19,396.41 L583.93,396.35 L584.66,396.30 L585.40,396.24 L586.13,396.19 L586.87,396.13 L587.61,396.08 L588.34,396.02 L589.08,395.97 L589.82,395.91 L590.55,395.86 L591.29,395.80 L592.03,395.75 L592.76,395.69 L593.50,395.64 L594.24,395.58 L594.97,395.53 L595.71,395.47 L596.45,395.42 L597.18,395.36 L597.92,395.31 L598.65,395.25 L599.39,395.20 L600.13,395.14 L600.86,395.08 L601.60,395.03 L602.34,394.97 L603.07,394.92 L603.81,394.86 L604.55,394.81 L605.28,394.75 L606.02,394.70 L606.76,394.64 L607.49,394.59 L608.23,394.53 L608.97,394.48 L609.70,394.42 L610.44,394.37 L611.18,394.31 L611.91,394.26 L612.65,394.20 L613.38,394.15 L614.12,394.09 L614.86,394.04 L615.59,393.98 L616.33,393.93 L617.07,393.87 L617.80,393.81 L618.54,393.76 L619.28,393.70 L620.01,393.65 L620.75,393.59 L621.49,393.54 L622.22,393.48 L622.96,393.43 L623.70,393.37 L624.43,393.32 L625.17,393.26 L625.91,393.21 L626.64,393.15 L627.38,393.10 L628.12,393.04 L628.85,392.99 L629.59,392.93 L630.32,392.88 L631.06,392.82 L631.80,392.77 L632.53,392.71 L633.27,392.66 L634.01,392.60 L634.74,392.55 L635.48,392.49 L636.22,392.43 L636.95,392.38 L637.69,392.32 L638.43,392.27 L639.16,392.21 L639.90,392.16 L640.64,392.10 L641.37,392.05 L642.11,391.99 L642.85,391.94 L643.58,391.88 L644.32,391.83 L645.05,391.77 L645.79,391.72 L646.53,391.66 L647.26,391.61 L648.00,391.55 L648.74,391.50 L649.47,391.44 L650.21,391.39 L650.95,391.33 L651.68,391.28 L652.42,391.22 L653.16,391.17 L653.89,391.11 L654.63,391.05 L655.37,391.00 L656.10,390.94 L656.84,390.89 L657.58,390.83 L658.31,390.78 L659.05,390.72 L659.78,390.67 L660.52,390.61 L661.26,390.56 L661.99,390.50 L662.73,390.45 L663.47,390.39 L664.20,390.34 L664.94,390.28 L665.68,390.23 L666.41,390.17 L667.15,390.12 L667.89,390.06 L668.62,390.01 L669.36,389.95 L670.10,389.90 L670.83,389.84 L671.57,389.79 L672.31,389.73 L673.04,389.67 L673.78,389.62 L674.51,389.56 L675.25,389.51 L675.99,389.45 L676.72,389.40 L677.46,389.34 L678.20,389.29" fill="none" stroke="#8a1aff" stroke-width="3.8" stroke-linejoin="round" stroke-linecap="round" />
<path d="M678.20,376.91 L674.92,377.05 L671.64,377.20 L668.36,377.35 L665.09,377.50 L661.81,377.64 L658.53,377.79 L655.26,377.94 L651.98,378.09 L648.70,378.23 L645.42,378.38 L642.15,378.53 L638.87,378.68 L635.59,378.82 L632.31,378.97 L629.04,379.12 L625.76,379.27 L622.48,379.41 L619.20,379.56 L615.93,379.71 L612.65,379.85 L609.37,380.00 L606.09,380.15 L602.82,380.30 L599.54,380.44 L596.26,380.59 L592.98,380.74 L589.71,380.89 L586.43,381.03 L583.15,381.18 L579.87,381.33 L576.60,381.48 L573.32,381.62 L570.04,381.77 L566.76,381.92 L563.49,382.07 L560.21,382.21 L556.93,382.36 L553.65,382.51 L550.38,382.66 L547.10,382.80 L547.10,420.70" fill="none" stroke="#3a9088" stroke-width="3.8" stroke-linejoin="round" stroke-linecap="round" />
<path d="M416.00,426.59 L419.28,426.45 L422.56,426.30 L425.84,426.15 L429.11,426.00 L432.39,425.86 L435.67,425.71 L438.94,425.56 L442.22,425.41 L445.50,425.27 L448.78,425.12 L452.05,424.97 L455.33,424.82 L458.61,424.68 L461.89,424.53 L465.16,424.38 L468.44,424.23 L471.72,424.09 L475.00,423.94 L478.27,423.79 L481.55,423.65 L484.83,423.50 L488.11,423.35 L491.38,423.20 L494.66,423.06 L497.94,422.91 L501.22,422.76 L504.49,422.61 L507.77,422.47 L511.05,422.32 L514.33,422.17 L517.60,422.02 L520.88,421.88 L524.16,421.73 L527.44,421.58 L530.71,421.43 L533.99,421.29 L537.27,421.14 L540.55,420.99 L543.82,420.84 L547.10,420.70 L547.10,382.80" fill="none" stroke="#3a9088" stroke-width="3.8" stroke-linejoin="round" stroke-linecap="round" />
<path d="M678.20,358.22 L674.94,358.30 L671.68,358.37 L668.42,358.44 L665.16,358.51 L661.90,358.58 L658.64,358.65 L655.38,358.72 L652.12,358.79 L648.87,358.86 L645.61,358.93 L642.35,359.01 L639.09,359.08 L635.83,359.15 L632.57,359.22 L629.31,359.29 L626.05,359.36 L622.79,359.43 L619.53,359.50 L616.28,359.57 L613.02,359.64 L609.76,359.71 L606.50,359.79 L603.24,359.86 L599.98,359.93 L596.72,360.00 L593.46,360.07 L590.20,360.14 L586.94,360.21 L583.69,360.28 L580.43,360.35 L577.17,360.42 L573.91,360.49 L570.65,360.57 L567.39,360.64 L564.13,360.71 L560.87,360.78 L557.61,360.85 L554.35,360.92 L551.10,360.99 L547.84,361.06 L547.84,442.41" fill="none" stroke="#8b1010" stroke-width="3.8" stroke-linejoin="round" stroke-linecap="round" />
<path d="M416.00,445.28 L419.30,445.20 L422.59,445.13 L425.89,445.06 L429.19,444.99 L432.48,444.92 L435.78,444.84 L439.07,444.77 L442.37,444.70 L445.67,444.63 L448.96,444.56 L452.26,444.49 L455.55,444.41 L458.85,444.34 L462.14,444.27 L465.44,444.20 L468.74,444.13 L472.03,444.06 L475.33,443.98 L478.62,443.91 L481.92,443.84 L485.22,443.77 L488.51,443.70 L491.81,443.63 L495.10,443.55 L498.40,443.48 L501.69,443.41 L504.99,443.34 L508.29,443.27 L511.58,443.20 L514.88,443.12 L518.17,443.05 L521.47,442.98 L524.77,442.91 L528.06,442.84 L531.36,442.76 L534.65,442.69 L537.95,442.62 L541.24,442.55 L544.54,442.48 L547.84,442.41 L547.84,361.06" fill="none" stroke="#8b1010" stroke-width="3.8" stroke-linejoin="round" stroke-linecap="round" />
<path d="M678.20,329.95 L674.95,329.95 L671.69,329.95 L668.44,329.95 L665.19,329.95 L661.94,329.95 L658.69,329.95 L655.44,329.95 L652.18,329.95 L648.93,329.95 L645.68,329.95 L642.43,329.95 L639.18,329.95 L635.93,329.95 L632.67,329.95 L629.42,329.95 L626.17,329.95 L622.92,329.95 L619.67,329.95 L616.42,329.95 L613.16,329.95 L609.91,329.95 L606.66,329.95 L603.41,329.95 L600.16,329.95 L596.91,329.95 L593.65,329.95 L590.40,329.95 L587.15,329.95 L583.90,329.95 L580.65,329.95 L577.40,329.95 L574.14,329.95 L570.89,329.95 L567.64,329.95 L564.39,329.95 L561.14,329.95 L557.89,329.95 L554.63,329.95 L551.38,329.95 L548.13,329.95 L548.13,473.55" fill="none" stroke="#f08a2a" stroke-width="3.8" stroke-linejoin="round" stroke-linecap="round" />
<path d="M416.00,473.55 L419.31,473.55 L422.61,473.55 L425.91,473.55 L429.22,473.55 L432.52,473.55 L435.82,473.55 L439.13,473.55 L442.43,473.55 L445.73,473.55 L449.04,473.55 L452.34,473.55 L455.64,473.55 L458.94,473.55 L462.25,473.55 L465.55,473.55 L468.85,473.55 L472.16,473.55 L475.46,473.55 L478.76,473.55 L482.07,473.55 L485.37,473.55 L488.67,473.55 L491.98,473.55 L495.28,473.55 L498.58,473.55 L501.89,473.55 L505.19,473.55 L508.49,473.55 L511.80,473.55 L515.10,473.55 L518.40,473.55 L521.71,473.55 L525.01,473.55 L528.31,473.55 L531.62,473.55 L534.92,473.55 L538.22,473.55 L541.52,473.55 L544.83,473.55 L548.13,473.55 L548.13,329.95" fill="none" stroke="#f08a2a" stroke-width="3.8" stroke-linejoin="round" stroke-linecap="round" />
<path d="M678.20,316.74 L674.95,316.69 L671.69,316.63 L668.44,316.58 L665.19,316.53 L661.94,316.48 L658.69,316.43 L655.44,316.38 L652.18,316.33 L648.93,316.28 L645.68,316.23 L642.43,316.18 L639.18,316.13 L635.93,316.08 L632.67,316.03 L629.42,315.98 L626.17,315.93 L622.92,315.88 L619.67,315.83 L616.42,315.78 L613.16,315.73 L609.91,315.68 L606.66,315.63 L603.41,315.58 L600.16,315.53 L596.91,315.48 L593.65,315.43 L590.40,315.38 L587.15,315.33 L583.90,315.28 L580.65,315.23 L577.40,315.18 L574.14,315.13 L570.89,315.08 L567.64,315.02 L564.39,314.97 L561.14,314.92 L557.89,314.87 L554.63,314.82 L551.38,314.77 L548.13,314.72 L548.13,488.81" fill="none" stroke="#f06a1a" stroke-width="3.8" stroke-linejoin="round" stroke-linecap="round" />
<path d="M416.00,486.76 L419.31,486.82 L422.61,486.87 L425.91,486.92 L429.22,486.97 L432.52,487.02 L435.82,487.07 L439.13,487.12 L442.43,487.17 L445.73,487.22 L449.04,487.28 L452.34,487.33 L455.64,487.38 L458.94,487.43 L462.25,487.48 L465.55,487.53 L468.85,487.58 L472.16,487.63 L475.46,487.68 L478.76,487.74 L482.07,487.79 L485.37,487.84 L488.67,487.89 L491.98,487.94 L495.28,487.99 L498.58,488.04 L501.89,488.09 L505.19,488.14 L508.49,488.20 L511.80,488.25 L515.10,488.30 L518.40,488.35 L521.71,488.40 L525.01,488.45 L528.31,488.50 L531.62,488.55 L534.92,488.60 L538.22,488.66 L541.52,488.71 L544.83,488.76 L548.13,488.81 L548.13,314.72" fill="none" stroke="#f06a1a" stroke-width="3.8" stroke-linejoin="round" stroke-linecap="round" />
<path d="M679.67,302.17 L676.38,302.14 L673.09,302.11 L669.80,302.08 L666.52,302.04 L663.23,302.01 L659.94,301.98 L656.65,301.95 L653.36,301.92 L650.07,301.88 L646.79,301.85 L643.50,301.82 L640.21,301.79 L636.92,301.76 L633.63,301.73 L630.34,301.69 L627.05,301.66 L623.77,301.63 L620.48,301.60 L617.19,301.57 L613.90,301.53 L610.61,301.50 L607.32,301.47 L604.04,301.44 L600.75,301.41 L597.46,301.38 L594.17,301.34 L590.88,301.31 L587.59,301.28 L584.30,301.25 L581.02,301.22 L577.73,301.18 L574.44,301.15 L571.15,301.12 L567.86,301.09 L564.57,301.06 L561.28,301.03 L558.00,300.99 L554.71,300.96 L551.42,300.93 L548.13,300.90 L548.13,502.62" fill="none" stroke="#7a1010" stroke-width="3.8" stroke-linejoin="round" stroke-linecap="round" />
<path d="M414.53,501.33 L417.87,501.36 L421.21,501.39 L424.55,501.43 L427.89,501.46 L431.23,501.49 L434.57,501.52 L437.91,501.56 L441.25,501.59 L444.59,501.62 L447.93,501.65 L451.27,501.68 L454.61,501.72 L457.95,501.75 L461.29,501.78 L464.63,501.81 L467.97,501.85 L471.31,501.88 L474.65,501.91 L477.99,501.94 L481.33,501.98 L484.67,502.01 L488.01,502.04 L491.35,502.07 L494.69,502.10 L498.03,502.14 L501.37,502.17 L504.71,502.20 L508.05,502.23 L511.39,502.27 L514.73,502.30 L518.07,502.33 L521.41,502.36 L524.75,502.40 L528.09,502.43 L531.43,502.46 L534.77,502.49 L538.11,502.52 L541.45,502.56 L544.79,502.59 L548.13,502.62 L548.13,300.90" fill="none" stroke="#7a1010" stroke-width="3.8" stroke-linejoin="round" stroke-linecap="round" />
<path d="M414.53,499.96 L414.82,499.94 L415.12,499.91 L415.41,499.89 L415.71,499.86 L416.00,499.84 L416.30,499.81 L416.59,499.79 L416.89,499.76 L417.18,499.74 L417.48,499.71 L417.77,499.69 L418.07,499.66 L418.36,499.64 L418.65,499.61 L418.95,499.58 L419.24,499.56 L419.54,499.53 L419.83,499.51 L420.13,499.48 L420.42,499.46 L420.72,499.43 L421.01,499.41 L421.31,499.38 L421.60,499.36 L421.90,499.33 L422.19,499.31 L422.48,499.28 L422.78,499.25 L423.07,499.23 L423.37,499.20 L423.66,499.18 L423.96,499.15 L424.25,499.13 L424.55,499.10 L424.84,499.08 L425.14,499.05 L425.43,499.02 L425.72,499.00 L426.02,498.97 L426.31,498.95 L426.61,498.92 L426.90,498.90 L427.20,498.87 L427.49,498.84 L427.79,498.82 L428.08,498.79 L428.38,498.77 L428.67,498.74 L428.97,498.72 L429.26,498.69 L429.55,498.66 L429.85,498.64 L430.14,498.61 L430.44,498.59 L430.73,498.56 L431.03,498.53 L431.32,498.51 L431.62,498.48 L431.91,498.46 L432.21,498.43 L432.50,498.40 L432.80,498.38 L433.09,498.35 L433.38,498.33 L433.68,498.30 L433.97,498.27 L434.27,498.25 L434.56,498.22 L434.86,498.20 L435.15,498.17 L435.45,498.14 L435.74,498.12 L436.04,498.09 L436.33,498.06 L436.62,498.04 L436.92,498.01 L437.21,497.98 L437.51,497.96 L437.80,497.93 L438.10,497.91 L438.39,497.88 L438.69,497.85 L438.98,497.83 L439.28,497.80 L439.57,497.77 L439.87,497.75 L440.16,497.72 L440.45,497.69 L440.75,497.67 L441.04,497.64 L441.34,497.61 L441.63,497.59 L441.93,497.56 L442.22,497.53 L442.52,497.51 L442.81,497.48 L443.11,497.45 L443.40,497.42 L443.70,497.40 L443.99,497.37 L444.28,497.34 L444.58,497.32 L444.87,497.29 L445.17,497.26 L445.46,497.23 L445.76,497.21 L446.05,497.18 L446.35,497.15 L446.64,497.13 L446.94,497.10 L447.23,497.07 L447.53,497.04 L447.82,497.02 L448.11,496.99 L448.41,496.96 L448.70,496.93 L449.00,496.91 L449.29,496.88 L449.59,496.85 L449.88,496.82 L450.18,496.79 L450.47,496.77 L450.77,496.74 L451.06,496.71 L451.36,496.68 L451.65,496.66 L451.94,496.63 L452.24,496.60 L452.53,496.57 L452.83,496.54 L453.12,496.51 L453.42,496.49 L453.71,496.46 L454.01,496.43 L454.30,496.40 L454.60,496.37 L454.89,496.34 L455.18,496.32 L455.48,496.29 L455.77,496.26 L456.07,496.23 L456.36,496.20 L456.66,496.17 L456.95,496.14 L457.25,496.12 L457.54,496.09 L457.84,496.06 L458.13,496.03 L458.43,496.00 L458.72,495.97 L459.01,495.94 L459.31,495.91 L459.60,495.88 L459.90,495.85 L460.19,495.82 L460.49,495.79 L460.78,495.76 L461.08,495.73 L461.37,495.71 L461.67,495.68 L461.96,495.65 L462.26,495.62 L462.55,495.59 L462.84,495.56 L463.14,495.53 L463.43,495.50 L463.73,495.47 L464.02,495.44 L464.32,495.41 L464.61,495.37 L464.91,495.34 L465.20,495.31 L465.50,495.28 L465.79,495.25 L466.09,495.22 L466.38,495.19 L466.67,495.16 L466.97,495.13 L467.26,495.10 L467.56,495.07 L467.85,495.04 L468.15,495.01 L468.44,494.97 L468.74,494.94 L469.03,494.91 L469.33,494.88 L469.62,494.85 L469.91,494.82 L470.21,494.78 L470.50,494.75 L470.80,494.72 L471.09,494.69 L471.39,494.66 L471.68,494.62 L471.98,494.59 L472.27,494.56 L472.57,494.53 L472.86,494.49 L473.16,494.46 L473.45,494.43 L473.74,494.40 L474.04,494.36 L474.33,494.33 L474.63,494.30 L474.92,494.26 L475.22,494.23 L475.51,494.20 L475.81,494.16 L476.10,494.13 L476.40,494.10 L476.69,494.06 L476.99,494.03 L477.28,493.99 L477.57,493.96 L477.87,493.92 L478.16,493.89 L478.46,493.86 L478.75,493.82 L479.05,493.79 L479.34,493.75 L479.64,493.72 L479.93,493.68 L480.23,493.65 L480.52,493.61 L480.82,493.58 L481.11,493.54 L481.40,493.50 L481.70,493.47 L481.99,493.43 L482.29,493.40 L482.58,493.36 L482.88,493.32 L483.17,493.29 L483.47,493.25 L483.76,493.21 L484.06,493.18 L484.35,493.14 L484.64,493.10 L484.94,493.06 L485.23,493.03 L485.53,492.99 L485.82,492.95 L486.12,492.91 L486.41,492.87 L486.71,492.84 L487.00,492.80 L487.30,492.76 L487.59,492.72 L487.89,492.68 L488.18,492.64 L488.47,492.60 L488.77,492.56 L489.06,492.52 L489.36,492.48 L489.65,492.44 L489.95,492.40 L490.24,492.36 L490.54,492.32 L490.83,492.28 L491.13,492.24 L491.42,492.20 L491.72,492.16 L492.01,492.12 L492.30,492.08 L492.60,492.03 L492.89,491.99 L493.19,491.95 L493.48,491.91 L493.78,491.86 L494.07,491.82 L494.37,491.78 L494.66,491.74 L494.96,491.69 L495.25,491.65 L495.55,491.60 L495.84,491.56 L496.13,491.52 L496.43,491.47 L496.72,491.43 L497.02,491.38 L497.31,491.34 L497.61,491.29 L497.90,491.24 L498.20,491.20 L498.49,491.15 L498.79,491.11 L499.08,491.06 L499.37,491.01 L499.67,490.96 L499.96,490.92 L500.26,490.87 L500.55,490.82 L500.85,490.77 L501.14,490.72 L501.44,490.68 L501.73,490.63 L502.03,490.58 L502.32,490.53 L502.62,490.48 L502.91,490.43 L503.20,490.38 L503.50,490.33 L503.79,490.28 L504.09,490.22 L504.38,490.17 L504.68,490.12 L504.97,490.07 L505.27,490.01 L505.56,489.96 L505.86,489.91 L506.15,489.86 L506.45,489.80 L506.74,489.75 L507.03,489.69 L507.33,489.64 L507.62,489.58 L507.92,489.53 L508.21,489.47 L508.51,489.41 L508.80,489.36 L509.10,489.30 L509.39,489.24 L509.69,489.18 L509.98,489.13 L510.28,489.07 L510.57,489.01 L510.86,488.95 L511.16,488.89 L511.45,488.83 L511.75,488.77 L512.04,488.71 L512.34,488.65 L512.63,488.59 L512.93,488.52 L513.22,488.46 L513.52,488.40 L513.81,488.33 L514.10,488.27 L514.40,488.21 L514.69,488.14 L514.99,488.08 L515.28,488.01 L515.58,487.94 L515.87,487.88 L516.17,487.81 L516.46,487.74 L516.76,487.67 L517.05,487.61 L517.35,487.54 L517.64,487.47 L517.93,487.40 L518.23,487.33 L518.52,487.26 L518.82,487.18 L519.11,487.11 L519.41,487.04 L519.70,486.97 L520.00,486.89 L520.29,486.82 L520.59,486.74 L520.88,486.67 L521.18,486.59 L521.47,486.52 L521.76,486.44 L522.06,486.36 L522.35,486.28 L522.65,486.20 L522.94,486.12 L523.24,486.04 L523.53,485.96 L523.83,485.88 L524.12,485.80 L524.42,485.72 L524.71,485.63 L525.00,485.55 L525.30,485.46 L525.59,485.38 L525.89,485.29 L526.18,485.21 L526.48,485.12 L526.77,485.03 L527.07,484.94 L527.36,484.85 L527.66,484.76 L527.95,484.67 L528.25,484.58 L528.54,484.48 L528.83,484.39 L529.13,484.30 L529.42,484.20 L529.72,484.11 L530.01,484.01 L530.31,483.91 L530.60,483.81 L530.90,483.72 L531.19,483.62 L531.49,483.52 L531.78,483.41 L532.08,483.31 L532.37,483.21 L532.66,483.10 L532.96,483.00 L533.25,482.89 L533.55,482.79 L533.84,482.68 L534.14,482.57 L534.43,482.46 L534.73,482.35 L535.02,482.24 L535.32,482.13 L535.61,482.01 L535.91,481.90 L536.20,481.78 L536.49,481.67 L536.79,481.55 L537.08,481.43 L537.38,481.31 L537.67,481.19 L537.97,481.07 L538.26,480.94 L538.56,480.82 L538.85,480.69 L539.15,480.57 L539.44,480.44 L539.74,480.31 L540.03,480.18 L540.32,480.05 L540.62,479.92 L540.91,479.79 L541.21,479.65 L541.50,479.52 L541.80,479.38 L542.09,479.24 L542.39,479.10 L542.68,478.96 L542.98,478.82 L543.27,478.67 L543.56,478.53 L543.86,478.38 L544.15,478.23 L544.45,478.07 L544.74,477.89 L545.04,477.65 L545.33,477.26 L545.63,476.48 L545.92,474.63 L546.22,470.06 L546.51,459.14 L546.81,436.54 L547.10,401.75 L547.39,366.96 L547.69,344.36 L547.98,333.44 L548.28,328.87 L548.57,327.02 L548.87,326.24 L549.16,325.85 L549.46,325.61 L549.75,325.43 L550.05,325.27 L550.34,325.12 L550.64,324.97 L550.93,324.83 L551.22,324.68 L551.52,324.54 L551.81,324.40 L552.11,324.26 L552.40,324.12 L552.70,323.98 L552.99,323.85 L553.29,323.71 L553.58,323.58 L553.88,323.45 L554.17,323.32 L554.47,323.19 L554.76,323.06 L555.05,322.93 L555.35,322.81 L555.64,322.68 L555.94,322.56 L556.23,322.43 L556.53,322.31 L556.82,322.19 L557.12,322.07 L557.41,321.95 L557.71,321.83 L558.00,321.72 L558.29,321.60 L558.59,321.49 L558.88,321.37 L559.18,321.26 L559.47,321.15 L559.77,321.04 L560.06,320.93 L560.36,320.82 L560.65,320.71 L560.95,320.61 L561.24,320.50 L561.54,320.40 L561.83,320.29 L562.12,320.19 L562.42,320.09 L562.71,319.98 L563.01,319.88 L563.30,319.78 L563.60,319.69 L563.89,319.59 L564.19,319.49 L564.48,319.39 L564.78,319.30 L565.07,319.20 L565.37,319.11 L565.66,319.02 L565.95,318.92 L566.25,318.83 L566.54,318.74 L566.84,318.65 L567.13,318.56 L567.43,318.47 L567.72,318.38 L568.02,318.29 L568.31,318.21 L568.61,318.12 L568.90,318.04 L569.20,317.95 L569.49,317.87 L569.78,317.78 L570.08,317.70 L570.37,317.62 L570.67,317.54 L570.96,317.46 L571.26,317.38 L571.55,317.30 L571.85,317.22 L572.14,317.14 L572.44,317.06 L572.73,316.98 L573.02,316.91 L573.32,316.83 L573.61,316.76 L573.91,316.68 L574.20,316.61 L574.50,316.53 L574.79,316.46 L575.09,316.39 L575.38,316.32 L575.68,316.24 L575.97,316.17 L576.27,316.10 L576.56,316.03 L576.85,315.96 L577.15,315.89 L577.44,315.83 L577.74,315.76 L578.03,315.69 L578.33,315.62 L578.62,315.56 L578.92,315.49 L579.21,315.42 L579.51,315.36 L579.80,315.29 L580.10,315.23 L580.39,315.17 L580.68,315.10 L580.98,315.04 L581.27,314.98 L581.57,314.91 L581.86,314.85 L582.16,314.79 L582.45,314.73 L582.75,314.67 L583.04,314.61 L583.34,314.55 L583.63,314.49 L583.93,314.43 L584.22,314.37 L584.51,314.32 L584.81,314.26 L585.10,314.20 L585.40,314.14 L585.69,314.09 L585.99,314.03 L586.28,313.97 L586.58,313.92 L586.87,313.86 L587.17,313.81 L587.46,313.75 L587.75,313.70 L588.05,313.64 L588.34,313.59 L588.64,313.54 L588.93,313.49 L589.23,313.43 L589.52,313.38 L589.82,313.33 L590.11,313.28 L590.41,313.22 L590.70,313.17 L591.00,313.12 L591.29,313.07 L591.58,313.02 L591.88,312.97 L592.17,312.92 L592.47,312.87 L592.76,312.82 L593.06,312.78 L593.35,312.73 L593.65,312.68 L593.94,312.63 L594.24,312.58 L594.53,312.54 L594.83,312.49 L595.12,312.44 L595.41,312.39 L595.71,312.35 L596.00,312.30 L596.30,312.26 L596.59,312.21 L596.89,312.16 L597.18,312.12 L597.48,312.07 L597.77,312.03 L598.07,311.98 L598.36,311.94 L598.65,311.90 L598.95,311.85 L599.24,311.81 L599.54,311.76 L599.83,311.72 L600.13,311.68 L600.42,311.64 L600.72,311.59 L601.01,311.55 L601.31,311.51 L601.60,311.47 L601.90,311.42 L602.19,311.38 L602.48,311.34 L602.78,311.30 L603.07,311.26 L603.37,311.22 L603.66,311.18 L603.96,311.14 L604.25,311.10 L604.55,311.06 L604.84,311.02 L605.14,310.98 L605.43,310.94 L605.73,310.90 L606.02,310.86 L606.31,310.82 L606.61,310.78 L606.90,310.74 L607.20,310.70 L607.49,310.66 L607.79,310.63 L608.08,310.59 L608.38,310.55 L608.67,310.51 L608.97,310.47 L609.26,310.44 L609.56,310.40 L609.85,310.36 L610.14,310.32 L610.44,310.29 L610.73,310.25 L611.03,310.21 L611.32,310.18 L611.62,310.14 L611.91,310.10 L612.21,310.07 L612.50,310.03 L612.80,310.00 L613.09,309.96 L613.38,309.92 L613.68,309.89 L613.97,309.85 L614.27,309.82 L614.56,309.78 L614.86,309.75 L615.15,309.71 L615.45,309.68 L615.74,309.64 L616.04,309.61 L616.33,309.58 L616.63,309.54 L616.92,309.51 L617.21,309.47 L617.51,309.44 L617.80,309.40 L618.10,309.37 L618.39,309.34 L618.69,309.30 L618.98,309.27 L619.28,309.24 L619.57,309.20 L619.87,309.17 L620.16,309.14 L620.46,309.10 L620.75,309.07 L621.04,309.04 L621.34,309.01 L621.63,308.97 L621.93,308.94 L622.22,308.91 L622.52,308.88 L622.81,308.84 L623.11,308.81 L623.40,308.78 L623.70,308.75 L623.99,308.72 L624.29,308.68 L624.58,308.65 L624.87,308.62 L625.17,308.59 L625.46,308.56 L625.76,308.53 L626.05,308.49 L626.35,308.46 L626.64,308.43 L626.94,308.40 L627.23,308.37 L627.53,308.34 L627.82,308.31 L628.12,308.28 L628.41,308.25 L628.70,308.22 L629.00,308.19 L629.29,308.16 L629.59,308.13 L629.88,308.09 L630.18,308.06 L630.47,308.03 L630.77,308.00 L631.06,307.97 L631.36,307.94 L631.65,307.91 L631.94,307.88 L632.24,307.85 L632.53,307.82 L632.83,307.79 L633.12,307.77 L633.42,307.74 L633.71,307.71 L634.01,307.68 L634.30,307.65 L634.60,307.62 L634.89,307.59 L635.19,307.56 L635.48,307.53 L635.77,307.50 L636.07,307.47 L636.36,307.44 L636.66,307.41 L636.95,307.38 L637.25,307.36 L637.54,307.33 L637.84,307.30 L638.13,307.27 L638.43,307.24 L638.72,307.21 L639.02,307.18 L639.31,307.16 L639.60,307.13 L639.90,307.10 L640.19,307.07 L640.49,307.04 L640.78,307.01 L641.08,306.99 L641.37,306.96 L641.67,306.93 L641.96,306.90 L642.26,306.87 L642.55,306.84 L642.85,306.82 L643.14,306.79 L643.43,306.76 L643.73,306.73 L644.02,306.71 L644.32,306.68 L644.61,306.65 L644.91,306.62 L645.20,306.59 L645.50,306.57 L645.79,306.54 L646.09,306.51 L646.38,306.48 L646.67,306.46 L646.97,306.43 L647.26,306.40 L647.56,306.37 L647.85,306.35 L648.15,306.32 L648.44,306.29 L648.74,306.27 L649.03,306.24 L649.33,306.21 L649.62,306.18 L649.92,306.16 L650.21,306.13 L650.50,306.10 L650.80,306.08 L651.09,306.05 L651.39,306.02 L651.68,305.99 L651.98,305.97 L652.27,305.94 L652.57,305.91 L652.86,305.89 L653.16,305.86 L653.45,305.83 L653.75,305.81 L654.04,305.78 L654.33,305.75 L654.63,305.73 L654.92,305.70 L655.22,305.67 L655.51,305.65 L655.81,305.62 L656.10,305.59 L656.40,305.57 L656.69,305.54 L656.99,305.52 L657.28,305.49 L657.58,305.46 L657.87,305.44 L658.16,305.41 L658.46,305.38 L658.75,305.36 L659.05,305.33 L659.34,305.30 L659.64,305.28 L659.93,305.25 L660.23,305.23 L660.52,305.20 L660.82,305.17 L661.11,305.15 L661.40,305.12 L661.70,305.10 L661.99,305.07 L662.29,305.04 L662.58,305.02 L662.88,304.99 L663.17,304.97 L663.47,304.94 L663.76,304.91 L664.06,304.89 L664.35,304.86 L664.65,304.84 L664.94,304.81 L665.23,304.78 L665.53,304.76 L665.82,304.73 L666.12,304.71 L666.41,304.68 L666.71,304.66 L667.00,304.63 L667.30,304.60 L667.59,304.58 L667.89,304.55 L668.18,304.53 L668.48,304.50 L668.77,304.48 L669.06,304.45 L669.36,304.42 L669.65,304.40 L669.95,304.37 L670.24,304.35 L670.54,304.32 L670.83,304.30 L671.13,304.27 L671.42,304.25 L671.72,304.22 L672.01,304.19 L672.31,304.17 L672.60,304.14 L672.89,304.12 L673.19,304.09 L673.48,304.07 L673.78,304.04 L674.07,304.02 L674.37,303.99 L674.66,303.97 L674.96,303.94 L675.25,303.92 L675.55,303.89 L675.84,303.86 L676.13,303.84 L676.43,303.81 L676.72,303.79 L677.02,303.76 L677.31,303.74 L677.61,303.71 L677.90,303.69 L678.20,303.66 L678.49,303.64 L678.79,303.61 L679.08,303.59 L679.38,303.56 L679.67,303.54" fill="none" stroke="#80c830" stroke-width="3.8" stroke-linejoin="round" stroke-linecap="round" />
<rect x="414" y="294.9" width="265.79999999999995" height="213.70000000000005" fill="none" stroke="#000" stroke-width="1.6"/>
<line x1="414.53" y1="508.60" x2="414.53" y2="504.60" stroke="#000" stroke-width="1.3" />
<line x1="436.62" y1="508.60" x2="436.62" y2="506.10" stroke="#000" stroke-width="1.3" />
<line x1="458.72" y1="508.60" x2="458.72" y2="504.60" stroke="#000" stroke-width="1.3" />
<line x1="480.82" y1="508.60" x2="480.82" y2="506.10" stroke="#000" stroke-width="1.3" />
<line x1="502.91" y1="508.60" x2="502.91" y2="504.60" stroke="#000" stroke-width="1.3" />
<line x1="525.00" y1="508.60" x2="525.00" y2="506.10" stroke="#000" stroke-width="1.3" />
<line x1="547.10" y1="508.60" x2="547.10" y2="504.60" stroke="#000" stroke-width="1.3" />
<line x1="569.20" y1="508.60" x2="569.20" y2="506.10" stroke="#000" stroke-width="1.3" />
<line x1="591.29" y1="508.60" x2="591.29" y2="504.60" stroke="#000" stroke-width="1.3" />
<line x1="613.38" y1="508.60" x2="613.38" y2="506.10" stroke="#000" stroke-width="1.3" />
<line x1="635.48" y1="508.60" x2="635.48" y2="504.60" stroke="#000" stroke-width="1.3" />
<line x1="657.58" y1="508.60" x2="657.58" y2="506.10" stroke="#000" stroke-width="1.3" />
<line x1="679.67" y1="508.60" x2="679.67" y2="504.60" stroke="#000" stroke-width="1.3" />
<line x1="414.00" y1="508.60" x2="418.00" y2="508.60" stroke="#000" stroke-width="1.3" />
<line x1="414.00" y1="490.79" x2="416.50" y2="490.79" stroke="#000" stroke-width="1.3" />
<line x1="414.00" y1="472.98" x2="418.00" y2="472.98" stroke="#000" stroke-width="1.3" />
<line x1="414.00" y1="455.17" x2="416.50" y2="455.17" stroke="#000" stroke-width="1.3" />
<line x1="414.00" y1="437.37" x2="418.00" y2="437.37" stroke="#000" stroke-width="1.3" />
<line x1="414.00" y1="419.56" x2="416.50" y2="419.56" stroke="#000" stroke-width="1.3" />
<line x1="414.00" y1="401.75" x2="418.00" y2="401.75" stroke="#000" stroke-width="1.3" />
<line x1="414.00" y1="383.94" x2="416.50" y2="383.94" stroke="#000" stroke-width="1.3" />
<line x1="414.00" y1="366.13" x2="418.00" y2="366.13" stroke="#000" stroke-width="1.3" />
<line x1="414.00" y1="348.33" x2="416.50" y2="348.33" stroke="#000" stroke-width="1.3" />
<line x1="414.00" y1="330.52" x2="418.00" y2="330.52" stroke="#000" stroke-width="1.3" />
<line x1="414.00" y1="312.71" x2="416.50" y2="312.71" stroke="#000" stroke-width="1.3" />
<line x1="414.00" y1="294.90" x2="418.00" y2="294.90" stroke="#000" stroke-width="1.3" />
<text transform="translate(414.53,524.40) scale(1,1.09)" font-size="13.3" font-family="Liberation Serif" font-weight="bold" text-anchor="middle" >-9</text>
<text transform="translate(458.72,524.40) scale(1,1.09)" font-size="13.3" font-family="Liberation Serif" font-weight="bold" text-anchor="middle" >-6</text>
<text transform="translate(502.91,524.40) scale(1,1.09)" font-size="13.3" font-family="Liberation Serif" font-weight="bold" text-anchor="middle" >-3</text>
<text transform="translate(547.10,524.40) scale(1,1.09)" font-size="13.3" font-family="Liberation Serif" font-weight="bold" text-anchor="middle" >0</text>
<text transform="translate(591.29,524.40) scale(1,1.09)" font-size="13.3" font-family="Liberation Serif" font-weight="bold" text-anchor="middle" >3</text>
<text transform="translate(635.48,524.40) scale(1,1.09)" font-size="13.3" font-family="Liberation Serif" font-weight="bold" text-anchor="middle" >6</text>
<text transform="translate(679.67,524.40) scale(1,1.09)" font-size="13.3" font-family="Liberation Serif" font-weight="bold" text-anchor="middle" >9</text>
<text transform="translate(409.20,299.30) scale(1,1.09)" font-size="13.3" font-family="Liberation Serif" font-weight="bold" text-anchor="end" >150</text>
<text transform="translate(409.20,334.92) scale(1,1.09)" font-size="13.3" font-family="Liberation Serif" font-weight="bold" text-anchor="end" >100</text>
<text transform="translate(409.20,370.53) scale(1,1.09)" font-size="13.3" font-family="Liberation Serif" font-weight="bold" text-anchor="end" >50</text>
<text transform="translate(409.20,406.15) scale(1,1.09)" font-size="13.3" font-family="Liberation Serif" font-weight="bold" text-anchor="end" >0</text>
<text transform="translate(409.20,441.76) scale(1,1.09)" font-size="13.3" font-family="Liberation Serif" font-weight="bold" text-anchor="end" >-50</text>
<text transform="translate(409.20,477.38) scale(1,1.09)" font-size="13.3" font-family="Liberation Serif" font-weight="bold" text-anchor="end" >-100</text>
<text transform="translate(409.20,513.00) scale(1,1.09)" font-size="13.3" font-family="Liberation Serif" font-weight="bold" text-anchor="end" >-150</text>
<text x="548.6" y="539" font-size="14.2" font-family="Liberation Serif" font-weight="bold" text-anchor="middle" >B (T)</text>
<text x="376.3" y="394.6" font-size="13.8" font-family="Liberation Serif" font-weight="bold" text-anchor="middle" textLength="67.2" lengthAdjust="spacingAndGlyphs" transform="rotate(-90 376.3 394.6)"><tspan font-weight="normal" font-size="15">ρ</tspan><tspan font-size="10.5" dy="3">xy</tspan><tspan dy="-3"> (μΩcm)</tspan></text>
<text x="407.5" y="281.8" font-size="18.5" font-family="Liberation Sans" font-weight="bold" text-anchor="start" letter-spacing="0.6">d)</text>
<text transform="translate(418.10,308.40) scale(1,1.05)" font-size="12" font-family="Liberation Serif" font-weight="bold" text-anchor="start" textLength="39.8" lengthAdjust="spacingAndGlyphs" >x = 0.27</text>
<line x1="420.50" y1="317.60" x2="443.50" y2="317.60" stroke="#000000" stroke-width="3.6" stroke-linecap="round"/>
<text transform="translate(449.00,321.40) scale(0.94,1.06)" font-size="10.8" font-family="Liberation Serif" font-weight="bold" text-anchor="start" >2K</text>
<line x1="420.50" y1="330.60" x2="443.50" y2="330.60" stroke="#ff2020" stroke-width="3.6" stroke-linecap="round"/>
<text transform="translate(449.00,334.40) scale(0.94,1.06)" font-size="10.8" font-family="Liberation Serif" font-weight="bold" text-anchor="start" >10K</text>
<line x1="420.50" y1="343.60" x2="443.50" y2="343.60" stroke="#4a80e0" stroke-width="3.6" stroke-linecap="round"/>
<text transform="translate(449.00,347.40) scale(0.94,1.06)" font-size="10.8" font-family="Liberation Serif" font-weight="bold" text-anchor="start" >20K</text>
<line x1="420.50" y1="356.60" x2="443.50" y2="356.60" stroke="#2a8a2a" stroke-width="3.6" stroke-linecap="round"/>
<text transform="translate(449.00,360.40) scale(0.94,1.06)" font-size="10.8" font-family="Liberation Serif" font-weight="bold" text-anchor="start" >30K</text>
<line x1="420.50" y1="369.60" x2="443.50" y2="369.60" stroke="#8a1aff" stroke-width="3.6" stroke-linecap="round"/>
<text transform="translate(449.00,373.40) scale(0.94,1.06)" font-size="10.8" font-family="Liberation Serif" font-weight="bold" text-anchor="start" >40K</text>
<line x1="420.50" y1="382.60" x2="443.50" y2="382.60" stroke="#8a9030" stroke-width="3.6" stroke-linecap="round"/>
<text transform="translate(449.00,386.40) scale(0.94,1.06)" font-size="10.8" font-family="Liberation Serif" font-weight="bold" text-anchor="start" >50K</text>
<line x1="471.00" y1="317.60" x2="496.00" y2="317.60" stroke="#3a9088" stroke-width="3.6" stroke-linecap="round"/>
<text transform="translate(497.50,321.40) scale(0.94,1.06)" font-size="10.8" font-family="Liberation Serif" font-weight="bold" text-anchor="start" >70K</text>
<line x1="476.50" y1="330.60" x2="501.50" y2="330.60" stroke="#8b1010" stroke-width="3.6" stroke-linecap="round"/>
<text transform="translate(503.00,334.40) scale(0.94,1.06)" font-size="10.8" font-family="Liberation Serif" font-weight="bold" text-anchor="start" >90K</text>
<line x1="476.50" y1="343.60" x2="501.50" y2="343.60" stroke="#f08a2a" stroke-width="3.6" stroke-linecap="round"/>
<text transform="translate(503.00,347.40) scale(0.94,1.06)" font-size="10.8" font-family="Liberation Serif" font-weight="bold" text-anchor="start" >110K</text>
<line x1="476.50" y1="356.60" x2="501.50" y2="356.60" stroke="#f06a1a" stroke-width="3.6" stroke-linecap="round"/>
<text transform="translate(503.00,360.40) scale(0.94,1.06)" font-size="10.8" font-family="Liberation Serif" font-weight="bold" text-anchor="start" >130K</text>
<line x1="476.50" y1="369.60" x2="501.50" y2="369.60" stroke="#7a1010" stroke-width="3.6" stroke-linecap="round"/>
<text transform="translate(503.00,373.40) scale(0.94,1.06)" font-size="10.8" font-family="Liberation Serif" font-weight="bold" text-anchor="start" >150K</text>
<line x1="476.50" y1="382.60" x2="501.50" y2="382.60" stroke="#80c830" stroke-width="3.6" stroke-linecap="round"/>
<text transform="translate(503.00,386.40) scale(0.94,1.06)" font-size="10.8" font-family="Liberation Serif" font-weight="bold" text-anchor="start" >170K</text></svg>
</body></html>
